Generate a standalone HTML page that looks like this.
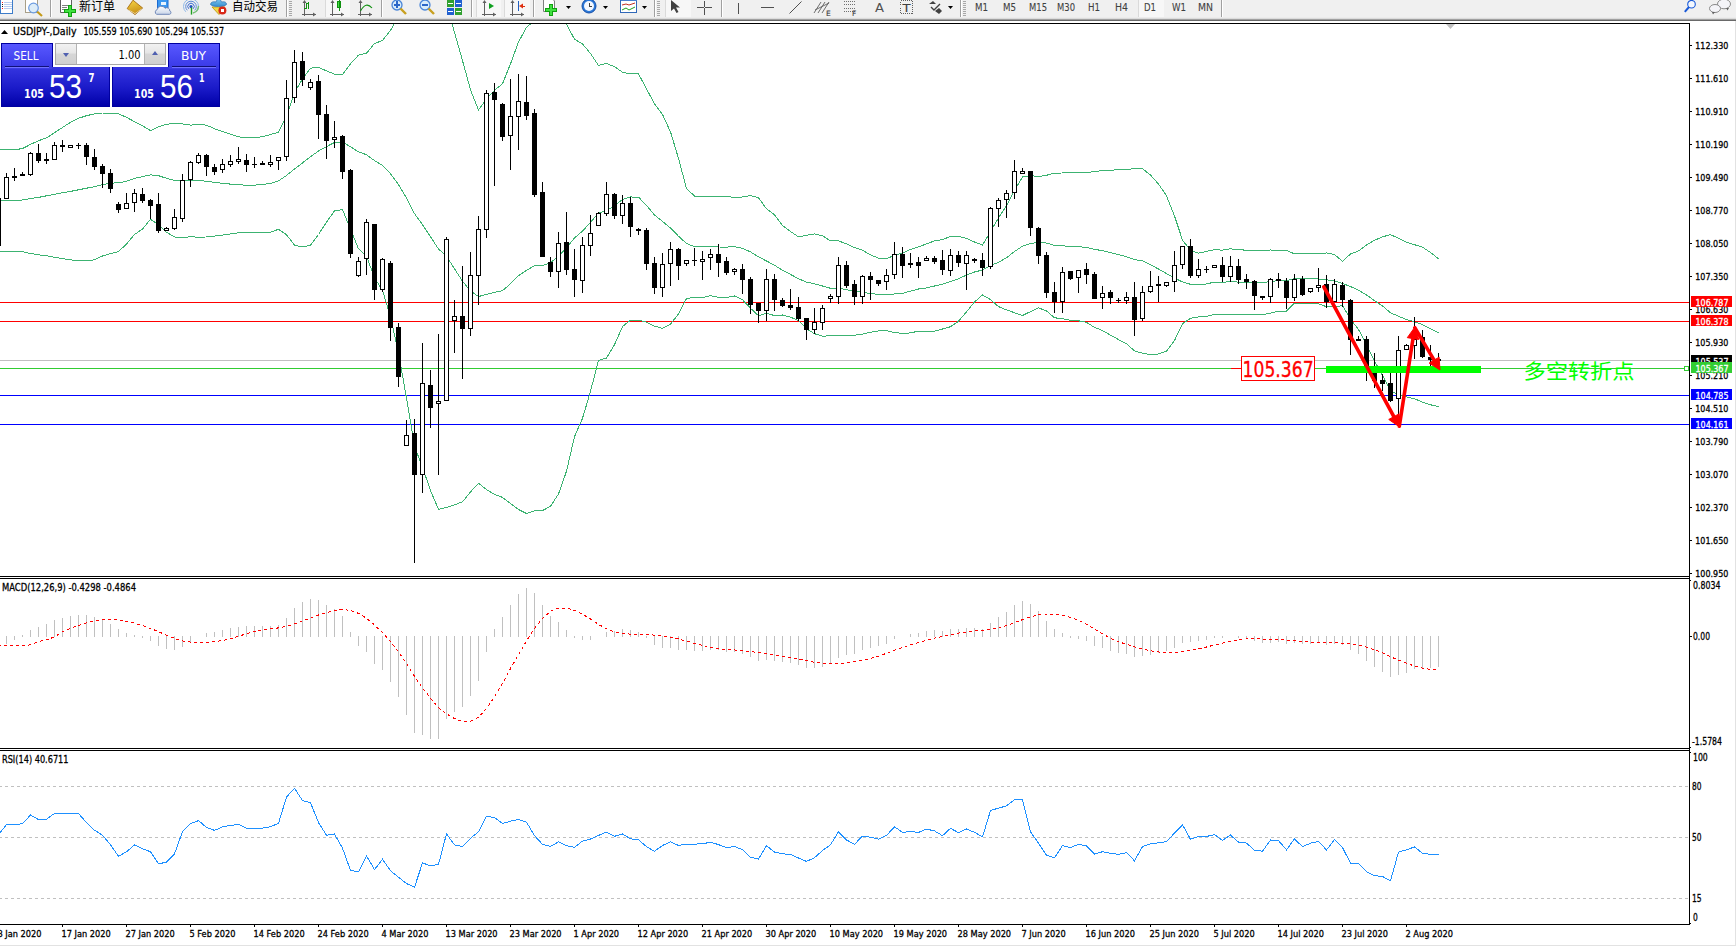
<!DOCTYPE html>
<html><head><meta charset="utf-8"><title>USDJPY Daily</title>
<style>html,body{margin:0;padding:0;background:#fff;overflow:hidden;width:1736px;height:947px}
svg text{white-space:pre}</style></head>
<body>
<svg width="1736" height="947" viewBox="0 0 1736 947" shape-rendering="crispEdges" style="position:absolute;left:0;top:0">
<rect x="0" y="0" width="1736" height="947" fill="#ffffff"/>
<rect x="0" y="0" width="1736" height="19" fill="#f0f0f0"/>
<rect x="0" y="17" width="1736" height="1" fill="#ececec"/>
<rect x="0" y="18" width="1736" height="1" fill="#dcdcdc"/>
<rect x="0" y="19" width="1736" height="1" fill="#a0a0a0"/>
<rect x="0" y="20" width="1736" height="1" fill="#696969"/>
<rect x="0" y="0" width="13" height="14" fill="#3d7cc9"/>
<rect x="1" y="0" width="11" height="13" fill="#ffffff"/>
<rect x="2" y="2" width="1" height="1" fill="#ff2020"/>
<rect x="4" y="2" width="8" height="1" fill="#b8cdf0"/>
<rect x="2" y="4" width="1" height="1" fill="#202020"/>
<rect x="4" y="4" width="8" height="1" fill="#b8cdf0"/>
<rect x="2" y="6" width="1" height="1" fill="#202020"/>
<rect x="4" y="6" width="8" height="1" fill="#b8cdf0"/>
<rect x="2" y="8" width="1" height="1" fill="#ff2020"/>
<rect x="4" y="8" width="8" height="1" fill="#b8cdf0"/>
<rect x="25.5" y="-2.5" width="12" height="15" fill="#fff" stroke="#a89f88" shape-rendering="auto"/>
<circle cx="33.5" cy="8" r="4.8" fill="#dcecf8" stroke="#6b9be0" stroke-width="1.2" shape-rendering="auto"/>
<line x1="37.3" y1="11.8" x2="42" y2="16" stroke="#c49a18" stroke-width="2.2" shape-rendering="auto"/>
<rect x="50" y="0" width="1" height="17" fill="#a0a0a0"/>
<rect x="51" y="0" width="1" height="17" fill="#ffffff"/>
<path d="M60.5,-2.5 H69.5 L71.5,0 V12.5 H60.5 Z" fill="#fff" stroke="#606060" shape-rendering="auto"/>
<rect x="62" y="5" width="6" height="1" fill="#808080"/>
<rect x="62" y="7" width="5" height="1" fill="#808080"/>
<rect x="62" y="9" width="4" height="1" fill="#808080"/>
<rect x="68" y="5" width="4" height="12" fill="#10a010"/>
<rect x="64" y="9" width="12" height="4" fill="#10a010"/>
<rect x="69" y="6" width="2" height="10" fill="#40e040"/>
<rect x="65" y="10" width="10" height="2" fill="#40e040"/>
<text x="79" y="10.5" font-size="12.5" fill="#000" font-family='"Noto Sans CJK SC", "WenQuanYi Zen Hei", sans-serif' textLength="36" lengthAdjust="spacingAndGlyphs">新订单</text>
<defs><linearGradient id="gbk" x1="0" y1="0" x2="0.3" y2="1"><stop offset="0" stop-color="#f8d848"/><stop offset="1" stop-color="#c89018"/></linearGradient><linearGradient id="gcl" x1="0" y1="0" x2="0" y2="1"><stop offset="0" stop-color="#ffffff"/><stop offset="1" stop-color="#c8d4e8"/></linearGradient><linearGradient id="ghat" x1="0" y1="0" x2="0" y2="1"><stop offset="0" stop-color="#80c8f0"/><stop offset="1" stop-color="#3890d0"/></linearGradient></defs>
<polygon points="127.2,8.6 133,0.2 142.6,8 135,14.6" fill="url(#gbk)" stroke="#a86c10" stroke-width="0.9" shape-rendering="auto"/>
<polyline points="128.5,9.8 135,13.6 141.6,9" fill="none" stroke="#f0e0b0" stroke-width="0.8" shape-rendering="auto"/>
<rect x="157.5" y="-1.5" width="10.5" height="9.5" fill="#3c98f0" stroke="#1c6ad0" shape-rendering="auto"/>
<rect x="161" y="2" width="5" height="3" fill="#e8f4ff" shape-rendering="auto"/>
<path d="M156.5,14.3 A2.6,2.6 0 0 1 157.2,9.6 A4.2,4.2 0 0 1 165,8.3 A3,3 0 0 1 169.8,11 A1.7,1.7 0 0 1 169.5,14.3 Z" fill="url(#gcl)" stroke="#7088b8" shape-rendering="auto"/>
<path d="M185.8,11.8 A7.5,7.5 0 1 1 196.2,11.8" fill="none" stroke="#90b8e8" stroke-width="1" shape-rendering="auto"/>
<path d="M187.3,10.3 A5.3,5.3 0 1 1 194.7,10.3" fill="none" stroke="#5a8ad8" stroke-width="1" shape-rendering="auto"/>
<path d="M188.8,8.8 A3.2,3.2 0 1 1 193.2,8.8" fill="none" stroke="#3a6ad0" stroke-width="1" shape-rendering="auto"/>
<path d="M193,13 A7.5,7.5 0 0 0 198.5,6" fill="none" stroke="#78c078" stroke-width="1.4" shape-rendering="auto"/>
<circle cx="191" cy="6.6" r="1.6" fill="#2050c0" shape-rendering="auto"/>
<path d="M191.5,7.5 V14.6" fill="none" stroke="#20a020" stroke-width="1.4" shape-rendering="auto"/>
<path d="M212,7 L225,7 L219,14.5 Z" fill="#f0d848" stroke="#c8a020" shape-rendering="auto"/>
<path d="M210.5,4.5 Q211,1 216,2 L217.5,-1 L220,-1 L221.5,2 Q226.5,1 226.5,4.5 Q225,6.5 218.5,6.5 Q212,6.5 210.5,4.5 Z" fill="url(#ghat)" stroke="#3878b8" stroke-width="0.8" shape-rendering="auto"/>
<circle cx="222.4" cy="10.6" r="4" fill="#d82818" shape-rendering="auto"/>
<rect x="221" y="9" width="3" height="3" fill="#fff"/>
<text x="232" y="10.5" font-size="12.5" fill="#000" font-family='"Noto Sans CJK SC", "WenQuanYi Zen Hei", sans-serif' textLength="46" lengthAdjust="spacingAndGlyphs">自动交易</text>
<rect x="286" y="0" width="1" height="17" fill="#a0a0a0"/>
<rect x="287" y="0" width="1" height="17" fill="#ffffff"/>
<rect x="289" y="1" width="3" height="1" fill="#a8a8a8"/>
<rect x="289" y="3" width="3" height="1" fill="#a8a8a8"/>
<rect x="289" y="5" width="3" height="1" fill="#a8a8a8"/>
<rect x="289" y="7" width="3" height="1" fill="#a8a8a8"/>
<rect x="289" y="9" width="3" height="1" fill="#a8a8a8"/>
<rect x="289" y="11" width="3" height="1" fill="#a8a8a8"/>
<rect x="289" y="13" width="3" height="1" fill="#a8a8a8"/>
<rect x="289" y="15" width="3" height="1" fill="#a8a8a8"/>
<rect x="304" y="1" width="1" height="15" fill="#606060"/>
<rect x="302" y="14" width="14" height="1" fill="#606060"/>
<polygon points="304.5,0 302.5,3 306.5,3" fill="#606060" shape-rendering="auto"/>
<polygon points="316,14.5 313,12.5 313,16.5" fill="#606060" shape-rendering="auto"/>
<rect x="306" y="3" width="1" height="6" fill="#109010"/>
<rect x="306" y="3" width="2" height="1" fill="#109010"/>
<rect x="308" y="2" width="1" height="7" fill="#109010"/>
<rect x="304" y="8" width="3" height="1" fill="#109010"/>
<rect x="325" y="0" width="25" height="17" fill="#f7f7f7"/>
<rect x="325" y="0" width="1" height="17" fill="#dadada"/>
<rect x="332" y="1" width="1" height="15" fill="#606060"/>
<rect x="330" y="14" width="14" height="1" fill="#606060"/>
<polygon points="332.5,0 330.5,3 334.5,3" fill="#606060" shape-rendering="auto"/>
<polygon points="344,14.5 341,12.5 341,16.5" fill="#606060" shape-rendering="auto"/>
<rect x="337" y="1" width="4" height="7" fill="#109010"/>
<rect x="338" y="2" width="2" height="5" fill="#40e040"/>
<rect x="339" y="0" width="1" height="11" fill="#109010"/>
<rect x="360" y="1" width="1" height="15" fill="#606060"/>
<rect x="358" y="14" width="14" height="1" fill="#606060"/>
<polygon points="360.5,0 358.5,3 362.5,3" fill="#606060" shape-rendering="auto"/>
<polygon points="372,14.5 369,12.5 369,16.5" fill="#606060" shape-rendering="auto"/>
<path d="M360.5,11 Q366,1 372,8" fill="none" stroke="#109010" stroke-width="1.1" shape-rendering="auto"/>
<rect x="381" y="0" width="1" height="17" fill="#a0a0a0"/>
<rect x="382" y="0" width="1" height="17" fill="#ffffff"/>
<circle cx="397" cy="5" r="5" fill="#d8ecfa" stroke="#4a86d8" stroke-width="1.3" shape-rendering="auto"/>
<line x1="400.5" y1="8.5" x2="406" y2="14" stroke="#c8a020" stroke-width="2.4" shape-rendering="auto"/>
<rect x="394" y="4" width="6" height="1" fill="#2a66c8"/>
<rect x="394" y="5" width="6" height="1" fill="#2a66c8"/>
<rect x="396" y="1" width="2" height="7" fill="#2a66c8"/>
<circle cx="425" cy="5" r="5" fill="#d8ecfa" stroke="#4a86d8" stroke-width="1.3" shape-rendering="auto"/>
<line x1="428.5" y1="8.5" x2="434" y2="14" stroke="#c8a020" stroke-width="2.4" shape-rendering="auto"/>
<rect x="422" y="4" width="6" height="1" fill="#2a66c8"/>
<rect x="422" y="5" width="6" height="1" fill="#2a66c8"/>
<rect x="447" y="0" width="7" height="7" fill="#30a030"/>
<rect x="455" y="0" width="7" height="7" fill="#2060d0"/>
<rect x="447" y="8" width="7" height="7" fill="#2060d0"/>
<rect x="455" y="8" width="7" height="7" fill="#30a030"/>
<rect x="448" y="3" width="5" height="1" fill="#ffffff"/>
<rect x="456" y="3" width="5" height="1" fill="#ffffff"/>
<rect x="448" y="11" width="5" height="1" fill="#ffffff"/>
<rect x="456" y="11" width="5" height="1" fill="#ffffff"/>
<rect x="471" y="0" width="1" height="17" fill="#a0a0a0"/>
<rect x="472" y="0" width="1" height="17" fill="#ffffff"/>
<rect x="476" y="0" width="25" height="17" fill="#f7f7f7"/>
<rect x="476" y="0" width="1" height="17" fill="#dadada"/>
<rect x="484" y="1" width="1" height="15" fill="#606060"/>
<rect x="482" y="14" width="14" height="1" fill="#606060"/>
<polygon points="484.5,0 482.5,3 486.5,3" fill="#606060" shape-rendering="auto"/>
<polygon points="496,14.5 493,12.5 493,16.5" fill="#606060" shape-rendering="auto"/>
<polygon points="489,3 489,9 494,6" fill="#10a020" shape-rendering="auto"/>
<rect x="504" y="0" width="26" height="17" fill="#f7f7f7"/>
<rect x="504" y="0" width="1" height="17" fill="#dadada"/>
<rect x="512" y="1" width="1" height="15" fill="#606060"/>
<rect x="510" y="14" width="14" height="1" fill="#606060"/>
<polygon points="512.5,0 510.5,3 514.5,3" fill="#606060" shape-rendering="auto"/>
<polygon points="524,14.5 521,12.5 521,16.5" fill="#606060" shape-rendering="auto"/>
<rect x="518" y="1" width="1" height="10" fill="#2060c0"/>
<polygon points="519,6 523,3.5 523,8.5" fill="#e03010" shape-rendering="auto"/>
<rect x="521" y="6" width="4" height="1" fill="#e03010"/>
<rect x="533" y="0" width="1" height="17" fill="#a0a0a0"/>
<rect x="534" y="0" width="1" height="17" fill="#ffffff"/>
<path d="M543.5,-1.5 H552 L554.5,1 V11.5 H543.5 Z" fill="#fff" stroke="#808080" shape-rendering="auto"/>
<rect x="549" y="4" width="4" height="12" fill="#10a010"/>
<rect x="545" y="8" width="12" height="4" fill="#10a010"/>
<rect x="550" y="5" width="2" height="10" fill="#40e040"/>
<rect x="546" y="9" width="10" height="2" fill="#40e040"/>
<polygon points="566,6 571,6 568.5,9" fill="#000" shape-rendering="auto"/>
<circle cx="589" cy="6" r="7" fill="#2a78d8" stroke="#1850a8" shape-rendering="auto"/>
<circle cx="589" cy="6" r="5" fill="#f4f8ff" shape-rendering="auto"/>
<rect x="589" y="3" width="1" height="4" fill="#404040"/>
<rect x="589" y="6" width="3" height="1" fill="#404040"/>
<polygon points="603,6 608,6 605.5,9" fill="#000" shape-rendering="auto"/>
<rect x="620.5" y="-1.5" width="16" height="14" fill="#fff" stroke="#3068b8" shape-rendering="auto"/>
<rect x="621" y="-1" width="16" height="2" fill="#4a80d0"/>
<polyline points="622,5 626,4 629,5 635,3" fill="none" stroke="#c03020" shape-rendering="auto"/>
<polyline points="622,10 626,8 629,10 635,7" fill="none" stroke="#20a020" shape-rendering="auto"/>
<polygon points="642,6 647,6 644.5,9" fill="#000" shape-rendering="auto"/>
<rect x="654" y="0" width="1" height="17" fill="#a0a0a0"/>
<rect x="655" y="0" width="1" height="17" fill="#ffffff"/>
<rect x="657" y="1" width="3" height="1" fill="#a8a8a8"/>
<rect x="657" y="3" width="3" height="1" fill="#a8a8a8"/>
<rect x="657" y="5" width="3" height="1" fill="#a8a8a8"/>
<rect x="657" y="7" width="3" height="1" fill="#a8a8a8"/>
<rect x="657" y="9" width="3" height="1" fill="#a8a8a8"/>
<rect x="657" y="11" width="3" height="1" fill="#a8a8a8"/>
<rect x="657" y="13" width="3" height="1" fill="#a8a8a8"/>
<rect x="657" y="15" width="3" height="1" fill="#a8a8a8"/>
<rect x="665" y="0" width="26" height="17" fill="#f7f7f7"/>
<rect x="665" y="0" width="1" height="17" fill="#dadada"/>
<polygon points="671,0 671,11 674,8.5 676.5,13 678.5,12 676,7.5 680,7.5" fill="#404040" shape-rendering="auto"/>
<rect x="704" y="1" width="1" height="14" fill="#505050"/>
<rect x="697" y="7" width="15" height="1" fill="#505050"/>
<rect x="704" y="7" width="1" height="1" fill="#f0f0f0"/>
<rect x="721" y="0" width="1" height="17" fill="#a0a0a0"/>
<rect x="722" y="0" width="1" height="17" fill="#ffffff"/>
<rect x="738" y="3" width="1" height="11" fill="#505050"/>
<rect x="761" y="7" width="13" height="1" fill="#505050"/>
<line x1="789.5" y1="13.5" x2="801.5" y2="1.5" stroke="#505050" shape-rendering="auto"/>
<line x1="814" y1="13" x2="821" y2="2" stroke="#606060" stroke-width="0.9" shape-rendering="auto"/>
<line x1="818" y1="13" x2="825" y2="2" stroke="#606060" stroke-width="0.9" shape-rendering="auto"/>
<line x1="822" y1="13" x2="829" y2="2" stroke="#606060" stroke-width="0.9" shape-rendering="auto"/>
<line x1="815" y1="10" x2="829" y2="3" stroke="#606060" stroke-width="0.9" shape-rendering="auto"/>
<text x="826" y="15.5" font-size="7.5" fill="#404040" text-anchor="start" font-family='"DejaVu Sans", "Liberation Sans", sans-serif' font-weight="normal" stroke="#404040" stroke-width="0.1">E</text>
<line x1="844" y1="1.5" x2="856" y2="1.5" stroke="#707070" stroke-dasharray="1 1"/>
<line x1="844" y1="4.5" x2="856" y2="4.5" stroke="#707070" stroke-dasharray="1 1"/>
<line x1="844" y1="8.5" x2="856" y2="8.5" stroke="#707070" stroke-dasharray="1 1"/>
<line x1="844" y1="11.5" x2="856" y2="11.5" stroke="#707070" stroke-dasharray="1 1"/>
<text x="852" y="15.5" font-size="7.5" fill="#404040" text-anchor="start" font-family='"DejaVu Sans", "Liberation Sans", sans-serif' font-weight="normal" stroke="#404040" stroke-width="0.1">F</text>
<text x="875" y="12" font-size="11.5" fill="#505050" text-anchor="start" font-family='"DejaVu Sans", "Liberation Sans", sans-serif' font-weight="normal" textLength="9" lengthAdjust="spacingAndGlyphs">A</text>
<rect x="900.5" y="0.5" width="12" height="13" fill="none" stroke="#606060" stroke-dasharray="1 1"/>
<text x="902.5" y="11.5" font-size="11" fill="#404040" text-anchor="start" font-family='"DejaVu Sans", "Liberation Sans", sans-serif' font-weight="normal" textLength="8" lengthAdjust="spacingAndGlyphs" stroke="#404040" stroke-width="0.1">T</text>
<polygon points="929,4 933,1 936,4" fill="#404040" shape-rendering="auto"/>
<polyline points="931,7 934,10 940,4" fill="none" stroke="#404040" stroke-width="1.4" shape-rendering="auto"/>
<polygon points="935,11 939,8 942,11 939,14" fill="#404040" shape-rendering="auto"/>
<polygon points="948,6 953,6 950.5,9" fill="#000" shape-rendering="auto"/>
<rect x="960" y="0" width="1" height="17" fill="#a0a0a0"/>
<rect x="961" y="0" width="1" height="17" fill="#ffffff"/>
<rect x="963" y="1" width="3" height="1" fill="#a8a8a8"/>
<rect x="963" y="3" width="3" height="1" fill="#a8a8a8"/>
<rect x="963" y="5" width="3" height="1" fill="#a8a8a8"/>
<rect x="963" y="7" width="3" height="1" fill="#a8a8a8"/>
<rect x="963" y="9" width="3" height="1" fill="#a8a8a8"/>
<rect x="963" y="11" width="3" height="1" fill="#a8a8a8"/>
<rect x="963" y="13" width="3" height="1" fill="#a8a8a8"/>
<rect x="963" y="15" width="3" height="1" fill="#a8a8a8"/>
<text x="975" y="11" font-size="10.5" fill="#404040" text-anchor="start" font-family='"DejaVu Sans", "Liberation Sans", sans-serif' font-weight="normal" textLength="13" lengthAdjust="spacingAndGlyphs" stroke="#404040" stroke-width="0.1">M1</text>
<text x="1003" y="11" font-size="10.5" fill="#404040" text-anchor="start" font-family='"DejaVu Sans", "Liberation Sans", sans-serif' font-weight="normal" textLength="13" lengthAdjust="spacingAndGlyphs" stroke="#404040" stroke-width="0.1">M5</text>
<text x="1029" y="11" font-size="10.5" fill="#404040" text-anchor="start" font-family='"DejaVu Sans", "Liberation Sans", sans-serif' font-weight="normal" textLength="18" lengthAdjust="spacingAndGlyphs" stroke="#404040" stroke-width="0.1">M15</text>
<text x="1057" y="11" font-size="10.5" fill="#404040" text-anchor="start" font-family='"DejaVu Sans", "Liberation Sans", sans-serif' font-weight="normal" textLength="18" lengthAdjust="spacingAndGlyphs" stroke="#404040" stroke-width="0.1">M30</text>
<text x="1088" y="11" font-size="10.5" fill="#404040" text-anchor="start" font-family='"DejaVu Sans", "Liberation Sans", sans-serif' font-weight="normal" textLength="12" lengthAdjust="spacingAndGlyphs" stroke="#404040" stroke-width="0.1">H1</text>
<text x="1115" y="11" font-size="10.5" fill="#404040" text-anchor="start" font-family='"DejaVu Sans", "Liberation Sans", sans-serif' font-weight="normal" textLength="13" lengthAdjust="spacingAndGlyphs" stroke="#404040" stroke-width="0.1">H4</text>
<rect x="1138" y="0" width="26" height="17" fill="#f7f7f7"/>
<rect x="1138" y="0" width="1" height="17" fill="#dadada"/>
<text x="1144" y="11" font-size="10.5" fill="#404040" text-anchor="start" font-family='"DejaVu Sans", "Liberation Sans", sans-serif' font-weight="normal" textLength="12" lengthAdjust="spacingAndGlyphs" stroke="#404040" stroke-width="0.1">D1</text>
<text x="1172" y="11" font-size="10.5" fill="#404040" text-anchor="start" font-family='"DejaVu Sans", "Liberation Sans", sans-serif' font-weight="normal" textLength="14" lengthAdjust="spacingAndGlyphs" stroke="#404040" stroke-width="0.1">W1</text>
<text x="1198" y="11" font-size="10.5" fill="#404040" text-anchor="start" font-family='"DejaVu Sans", "Liberation Sans", sans-serif' font-weight="normal" textLength="15" lengthAdjust="spacingAndGlyphs" stroke="#404040" stroke-width="0.1">MN</text>
<rect x="1221" y="0" width="1" height="17" fill="#a0a0a0"/>
<rect x="1222" y="0" width="1" height="17" fill="#ffffff"/>
<circle cx="1691.5" cy="4.2" r="3.8" fill="#f4f8ff" stroke="#1a5ad8" stroke-width="1.1" shape-rendering="auto"/>
<line x1="1689" y1="7" x2="1684.8" y2="11.8" stroke="#1a5ad8" stroke-width="2" shape-rendering="auto"/>
<ellipse cx="1724" cy="4" rx="6.5" ry="4.8" fill="#f4f4f8" stroke="#8a8a8a" shape-rendering="auto"/>
<ellipse cx="1715" cy="8.5" rx="5.5" ry="4" fill="#f4f4f8" stroke="#8a8a8a" shape-rendering="auto"/>
<polygon points="1712,12 1713,14.5 1715,12" fill="#606060" shape-rendering="auto"/>
<polygon points="1726,8 1727.5,10.5 1729,8" fill="#606060" shape-rendering="auto"/>
<rect x="0" y="23" width="1690" height="1" fill="#000"/>
<rect x="0" y="576" width="1690" height="1" fill="#000"/>
<rect x="0" y="578" width="1690" height="1" fill="#000"/>
<rect x="0" y="748" width="1690" height="1" fill="#000"/>
<rect x="0" y="750" width="1690" height="1" fill="#000"/>
<rect x="0" y="924" width="1690" height="1" fill="#000"/>
<rect x="1689" y="23" width="1" height="902" fill="#000"/>
<rect x="1735" y="21" width="1" height="925" fill="#e2e2e2"/>
<rect x="0" y="945" width="1736" height="1" fill="#e2e2e2"/>
<rect x="1690" y="45" width="2" height="1" fill="#000"/>
<text x="1695.3" y="49" font-size="9.5" fill="#000" text-anchor="start" font-family='"DejaVu Sans", "Liberation Sans", sans-serif' font-weight="normal" textLength="33" lengthAdjust="spacingAndGlyphs" stroke="#000" stroke-width="0.3">112.330</text>
<rect x="1690" y="78" width="2" height="1" fill="#000"/>
<text x="1695.3" y="82" font-size="9.5" fill="#000" text-anchor="start" font-family='"DejaVu Sans", "Liberation Sans", sans-serif' font-weight="normal" textLength="33" lengthAdjust="spacingAndGlyphs" stroke="#000" stroke-width="0.3">111.610</text>
<rect x="1690" y="111" width="2" height="1" fill="#000"/>
<text x="1695.3" y="115" font-size="9.5" fill="#000" text-anchor="start" font-family='"DejaVu Sans", "Liberation Sans", sans-serif' font-weight="normal" textLength="33" lengthAdjust="spacingAndGlyphs" stroke="#000" stroke-width="0.3">110.910</text>
<rect x="1690" y="144" width="2" height="1" fill="#000"/>
<text x="1695.3" y="148" font-size="9.5" fill="#000" text-anchor="start" font-family='"DejaVu Sans", "Liberation Sans", sans-serif' font-weight="normal" textLength="33" lengthAdjust="spacingAndGlyphs" stroke="#000" stroke-width="0.3">110.190</text>
<rect x="1690" y="177" width="2" height="1" fill="#000"/>
<text x="1695.3" y="181" font-size="9.5" fill="#000" text-anchor="start" font-family='"DejaVu Sans", "Liberation Sans", sans-serif' font-weight="normal" textLength="33" lengthAdjust="spacingAndGlyphs" stroke="#000" stroke-width="0.3">109.490</text>
<rect x="1690" y="210" width="2" height="1" fill="#000"/>
<text x="1695.3" y="214" font-size="9.5" fill="#000" text-anchor="start" font-family='"DejaVu Sans", "Liberation Sans", sans-serif' font-weight="normal" textLength="33" lengthAdjust="spacingAndGlyphs" stroke="#000" stroke-width="0.3">108.770</text>
<rect x="1690" y="243" width="2" height="1" fill="#000"/>
<text x="1695.3" y="247" font-size="9.5" fill="#000" text-anchor="start" font-family='"DejaVu Sans", "Liberation Sans", sans-serif' font-weight="normal" textLength="33" lengthAdjust="spacingAndGlyphs" stroke="#000" stroke-width="0.3">108.050</text>
<rect x="1690" y="276" width="2" height="1" fill="#000"/>
<text x="1695.3" y="280" font-size="9.5" fill="#000" text-anchor="start" font-family='"DejaVu Sans", "Liberation Sans", sans-serif' font-weight="normal" textLength="33" lengthAdjust="spacingAndGlyphs" stroke="#000" stroke-width="0.3">107.350</text>
<rect x="1690" y="309" width="2" height="1" fill="#000"/>
<text x="1695.3" y="313" font-size="9.5" fill="#000" text-anchor="start" font-family='"DejaVu Sans", "Liberation Sans", sans-serif' font-weight="normal" textLength="33" lengthAdjust="spacingAndGlyphs" stroke="#000" stroke-width="0.3">106.630</text>
<rect x="1690" y="342" width="2" height="1" fill="#000"/>
<text x="1695.3" y="346" font-size="9.5" fill="#000" text-anchor="start" font-family='"DejaVu Sans", "Liberation Sans", sans-serif' font-weight="normal" textLength="33" lengthAdjust="spacingAndGlyphs" stroke="#000" stroke-width="0.3">105.930</text>
<rect x="1690" y="375" width="2" height="1" fill="#000"/>
<text x="1695.3" y="379" font-size="9.5" fill="#000" text-anchor="start" font-family='"DejaVu Sans", "Liberation Sans", sans-serif' font-weight="normal" textLength="33" lengthAdjust="spacingAndGlyphs" stroke="#000" stroke-width="0.3">105.210</text>
<rect x="1690" y="408" width="2" height="1" fill="#000"/>
<text x="1695.3" y="412" font-size="9.5" fill="#000" text-anchor="start" font-family='"DejaVu Sans", "Liberation Sans", sans-serif' font-weight="normal" textLength="33" lengthAdjust="spacingAndGlyphs" stroke="#000" stroke-width="0.3">104.510</text>
<rect x="1690" y="441" width="2" height="1" fill="#000"/>
<text x="1695.3" y="445" font-size="9.5" fill="#000" text-anchor="start" font-family='"DejaVu Sans", "Liberation Sans", sans-serif' font-weight="normal" textLength="33" lengthAdjust="spacingAndGlyphs" stroke="#000" stroke-width="0.3">103.790</text>
<rect x="1690" y="474" width="2" height="1" fill="#000"/>
<text x="1695.3" y="478" font-size="9.5" fill="#000" text-anchor="start" font-family='"DejaVu Sans", "Liberation Sans", sans-serif' font-weight="normal" textLength="33" lengthAdjust="spacingAndGlyphs" stroke="#000" stroke-width="0.3">103.070</text>
<rect x="1690" y="507" width="2" height="1" fill="#000"/>
<text x="1695.3" y="511" font-size="9.5" fill="#000" text-anchor="start" font-family='"DejaVu Sans", "Liberation Sans", sans-serif' font-weight="normal" textLength="33" lengthAdjust="spacingAndGlyphs" stroke="#000" stroke-width="0.3">102.370</text>
<rect x="1690" y="540" width="2" height="1" fill="#000"/>
<text x="1695.3" y="544" font-size="9.5" fill="#000" text-anchor="start" font-family='"DejaVu Sans", "Liberation Sans", sans-serif' font-weight="normal" textLength="33" lengthAdjust="spacingAndGlyphs" stroke="#000" stroke-width="0.3">101.650</text>
<rect x="1690" y="573" width="2" height="1" fill="#000"/>
<text x="1695.3" y="577" font-size="9.5" fill="#000" text-anchor="start" font-family='"DejaVu Sans", "Liberation Sans", sans-serif' font-weight="normal" textLength="33" lengthAdjust="spacingAndGlyphs" stroke="#000" stroke-width="0.3">100.950</text>
<defs><clipPath id="cm"><rect x="0" y="24" width="1689" height="552"/></clipPath><clipPath id="cd"><rect x="0" y="579" width="1689" height="169"/></clipPath><clipPath id="cr"><rect x="0" y="751" width="1689" height="173"/></clipPath></defs>
<g clip-path="url(#cm)">
<rect x="0" y="302" width="1689" height="1" fill="#ff0000"/>
<rect x="0" y="321" width="1689" height="1" fill="#ff0000"/>
<rect x="0" y="360" width="1689" height="1" fill="#c0c0c0"/>
<rect x="0" y="368" width="1689" height="1" fill="#32cd32"/>
<rect x="0" y="395" width="1689" height="1" fill="#0000ff"/>
<rect x="0" y="424" width="1689" height="1" fill="#0000ff"/>
<polyline points="-1.5,149.7 6.5,149.7 14.5,149.7 22.5,148.6 30.5,144.4 38.5,140.7 46.5,137.9 54.5,132.6 62.5,127.5 70.5,122.3 78.5,118.3 86.5,115.7 94.5,113.9 102.5,113.0 110.5,113.0 118.5,113.8 126.5,117.4 134.5,121.6 142.5,125.7 150.5,130.6 158.5,126.8 166.5,124.2 174.5,123.6 182.5,123.9 190.5,125.1 198.5,124.4 206.5,125.2 214.5,128.7 222.5,131.5 230.5,134.2 238.5,136.8 246.5,138.0 254.5,137.7 262.5,136.7 270.5,134.5 278.5,132.2 286.5,116.3 294.5,92.7 302.5,78.8 310.5,68.2 318.5,67.4 326.5,70.9 334.5,74.2 342.5,74.6 350.5,63.8 358.5,55.1 366.5,53.3 374.5,43.5 382.5,40.5 390.5,30.3 398.5,16.4 406.5,-2.1 414.5,-19.1 422.5,-18.3 430.5,-16.8 438.5,-11.5 446.5,4.7 454.5,32.6 462.5,60.6 470.5,89.8 478.5,110.0 486.5,98.9 494.5,90.3 502.5,83.8 510.5,63.9 518.5,42.0 526.5,27.3 534.5,20.5 542.5,20.4 550.5,19.2 558.5,18.1 566.5,24.3 574.5,39.3 582.5,43.9 590.5,53.5 598.5,65.4 606.5,63.5 614.5,66.6 622.5,72.3 630.5,73.9 638.5,73.9 646.5,88.9 654.5,103.8 662.5,114.4 670.5,131.9 678.5,158.5 686.5,188.4 694.5,196.1 702.5,196.1 710.5,196.4 718.5,196.8 726.5,196.7 734.5,197.3 742.5,197.0 750.5,195.5 758.5,197.8 766.5,208.8 774.5,214.8 782.5,225.6 790.5,231.6 798.5,236.8 806.5,235.3 814.5,233.9 822.5,235.8 830.5,240.9 838.5,240.9 846.5,243.9 854.5,247.6 862.5,250.3 870.5,254.8 878.5,258.2 886.5,258.7 894.5,255.3 902.5,253.1 910.5,249.5 918.5,246.8 926.5,243.9 934.5,240.9 942.5,239.5 950.5,236.5 958.5,236.4 966.5,238.5 974.5,242.0 982.5,245.1 990.5,231.5 998.5,218.0 1006.5,205.6 1014.5,190.2 1022.5,177.0 1030.5,175.7 1038.5,176.5 1046.5,175.3 1054.5,173.1 1062.5,173.0 1070.5,172.7 1078.5,172.7 1086.5,172.7 1094.5,171.4 1102.5,170.7 1110.5,170.3 1118.5,169.6 1126.5,169.7 1134.5,168.4 1142.5,168.6 1150.5,175.1 1158.5,184.0 1166.5,195.8 1174.5,215.9 1182.5,240.1 1190.5,250.5 1198.5,253.1 1206.5,251.4 1214.5,249.8 1222.5,250.1 1230.5,248.8 1238.5,249.7 1246.5,250.2 1254.5,250.3 1262.5,250.2 1270.5,250.0 1278.5,250.2 1286.5,250.2 1294.5,254.0 1302.5,253.9 1310.5,253.8 1318.5,253.8 1326.5,252.9 1334.5,254.6 1342.5,261.3 1350.5,254.0 1358.5,250.9 1366.5,245.0 1374.5,240.3 1382.5,236.8 1390.5,234.7 1398.5,238.2 1406.5,242.1 1414.5,244.7 1422.5,247.1 1430.5,252.5 1438.5,258.7" fill="none" stroke="#3cb371" stroke-width="1"/>
<polyline points="-1.5,200.9 6.5,200.9 14.5,200.9 22.5,199.9 30.5,198.6 38.5,197.4 46.5,195.8 54.5,194.3 62.5,192.7 70.5,191.4 78.5,189.8 86.5,188.2 94.5,186.7 102.5,184.7 110.5,183.2 118.5,182.8 126.5,181.3 134.5,178.4 142.5,176.6 150.5,174.9 158.5,175.7 166.5,178.3 174.5,180.3 182.5,180.6 190.5,181.0 198.5,180.8 206.5,181.1 214.5,182.4 222.5,183.3 230.5,184.1 238.5,184.8 246.5,185.2 254.5,185.1 262.5,184.6 270.5,183.4 278.5,180.8 286.5,175.5 294.5,169.0 302.5,162.9 310.5,156.8 318.5,151.0 326.5,146.6 334.5,142.5 342.5,142.1 350.5,146.7 358.5,151.9 366.5,154.7 374.5,160.6 382.5,165.4 390.5,173.7 398.5,184.6 406.5,198.1 414.5,213.6 422.5,224.6 430.5,236.8 438.5,249.0 446.5,256.1 454.5,268.8 462.5,281.2 470.5,290.9 478.5,296.6 486.5,294.3 494.5,292.4 502.5,290.6 510.5,283.8 518.5,275.7 526.5,270.4 534.5,265.7 542.5,265.5 550.5,262.7 558.5,256.1 566.5,247.8 574.5,238.0 582.5,231.1 590.5,222.4 598.5,213.0 606.5,210.7 614.5,205.7 622.5,199.4 630.5,197.0 638.5,197.1 646.5,205.5 654.5,214.9 662.5,221.4 670.5,228.0 678.5,236.2 686.5,243.5 694.5,246.7 702.5,246.9 710.5,246.1 718.5,247.0 726.5,247.1 734.5,246.7 742.5,248.3 750.5,251.9 758.5,256.8 766.5,261.0 774.5,265.2 782.5,270.3 790.5,274.4 798.5,278.8 806.5,282.1 814.5,283.8 822.5,286.0 830.5,288.3 838.5,288.3 846.5,289.6 854.5,291.4 862.5,292.3 870.5,293.5 878.5,294.5 886.5,294.7 894.5,294.0 902.5,293.3 910.5,291.2 918.5,289.0 926.5,287.9 934.5,286.0 942.5,284.2 950.5,281.6 958.5,278.8 966.5,275.1 974.5,272.0 982.5,270.0 990.5,265.6 998.5,262.3 1006.5,257.7 1014.5,251.5 1022.5,246.2 1030.5,243.6 1038.5,242.2 1046.5,243.1 1054.5,245.4 1062.5,245.8 1070.5,246.5 1078.5,246.7 1086.5,247.5 1094.5,249.4 1102.5,250.6 1110.5,252.7 1118.5,254.6 1126.5,256.7 1134.5,259.7 1142.5,260.9 1150.5,264.8 1158.5,269.0 1166.5,273.5 1174.5,278.2 1182.5,281.9 1190.5,284.3 1198.5,285.0 1206.5,283.9 1214.5,282.1 1222.5,282.3 1230.5,281.7 1238.5,282.1 1246.5,282.5 1254.5,282.3 1262.5,282.5 1270.5,281.6 1278.5,280.6 1286.5,280.6 1294.5,278.6 1302.5,278.7 1310.5,278.8 1318.5,278.9 1326.5,279.8 1334.5,280.8 1342.5,283.4 1350.5,286.6 1358.5,290.2 1366.5,294.9 1374.5,300.7 1382.5,306.0 1390.5,312.7 1398.5,316.3 1406.5,319.5 1414.5,321.7 1422.5,324.6 1430.5,328.7 1438.5,332.7" fill="none" stroke="#3cb371" stroke-width="1"/>
<polyline points="-1.5,251.6 6.5,251.6 14.5,251.6 22.5,251.6 30.5,253.5 38.5,254.8 46.5,255.7 54.5,257.3 62.5,258.6 70.5,259.8 78.5,260.7 86.5,260.7 94.5,259.8 102.5,256.0 110.5,253.5 118.5,251.6 126.5,244.0 134.5,234.5 142.5,229.0 150.5,219.3 158.5,224.6 166.5,232.3 174.5,237.0 182.5,237.2 190.5,236.9 198.5,237.1 206.5,237.0 214.5,236.1 222.5,235.1 230.5,234.0 238.5,232.8 246.5,232.4 254.5,232.5 262.5,232.6 270.5,232.2 278.5,229.3 286.5,234.7 294.5,245.2 302.5,247.0 310.5,245.3 318.5,234.5 326.5,222.2 334.5,210.9 342.5,209.6 350.5,229.5 358.5,248.8 366.5,256.2 374.5,277.8 382.5,290.3 390.5,317.1 398.5,352.7 406.5,398.3 414.5,446.3 422.5,467.4 430.5,490.4 438.5,509.5 446.5,507.4 454.5,504.9 462.5,501.8 470.5,491.9 478.5,483.2 486.5,489.6 494.5,494.4 502.5,497.4 510.5,503.6 518.5,509.5 526.5,513.5 534.5,510.8 542.5,510.6 550.5,506.2 558.5,494.0 566.5,471.2 574.5,436.7 582.5,418.3 590.5,391.3 598.5,360.6 606.5,358.0 614.5,344.8 622.5,326.6 630.5,320.1 638.5,320.2 646.5,322.2 654.5,326.1 662.5,328.3 670.5,324.1 678.5,313.9 686.5,298.5 694.5,297.4 702.5,297.7 710.5,295.7 718.5,297.2 726.5,297.6 734.5,296.0 742.5,299.7 750.5,308.3 758.5,315.7 766.5,313.2 774.5,315.6 782.5,315.0 790.5,317.1 798.5,320.7 806.5,328.8 814.5,333.7 822.5,336.2 830.5,335.8 838.5,335.8 846.5,335.3 854.5,335.2 862.5,334.2 870.5,332.2 878.5,330.9 886.5,330.7 894.5,332.6 902.5,333.4 910.5,332.9 918.5,331.1 926.5,332.0 934.5,331.2 942.5,329.0 950.5,326.7 958.5,321.3 966.5,311.8 974.5,302.0 982.5,294.9 990.5,299.6 998.5,306.6 1006.5,309.9 1014.5,312.7 1022.5,315.5 1030.5,311.6 1038.5,307.9 1046.5,310.9 1054.5,317.8 1062.5,318.6 1070.5,320.3 1078.5,320.8 1086.5,322.4 1094.5,327.4 1102.5,330.5 1110.5,335.1 1118.5,339.6 1126.5,343.7 1134.5,350.9 1142.5,353.2 1150.5,354.5 1158.5,354.0 1166.5,351.2 1174.5,340.5 1182.5,323.8 1190.5,318.2 1198.5,317.0 1206.5,316.3 1214.5,314.4 1222.5,314.4 1230.5,314.5 1238.5,314.6 1246.5,314.7 1254.5,314.3 1262.5,314.8 1270.5,313.2 1278.5,311.0 1286.5,311.0 1294.5,303.2 1302.5,303.6 1310.5,303.8 1318.5,303.9 1326.5,306.7 1334.5,306.9 1342.5,305.5 1350.5,319.2 1358.5,329.4 1366.5,344.9 1374.5,361.1 1382.5,375.3 1390.5,390.8 1398.5,394.4 1406.5,396.9 1414.5,398.7 1422.5,402.2 1430.5,404.8 1438.5,406.6" fill="none" stroke="#3cb371" stroke-width="1"/>
<rect x="-2" y="198" width="1" height="48" fill="#000"/>
<rect x="-4" y="198" width="5" height="48" fill="#000"/>
<rect x="-3" y="199" width="3" height="46" fill="#fff"/>
<rect x="6" y="173" width="1" height="26" fill="#000"/>
<rect x="4" y="177" width="5" height="22" fill="#000"/>
<rect x="5" y="178" width="3" height="20" fill="#fff"/>
<rect x="14" y="168" width="1" height="13" fill="#000"/>
<rect x="12" y="176" width="5" height="2" fill="#000"/>
<rect x="22" y="172" width="1" height="4" fill="#000"/>
<rect x="20" y="174" width="5" height="2" fill="#000"/>
<rect x="30" y="152" width="1" height="24" fill="#000"/>
<rect x="28" y="153" width="5" height="22" fill="#000"/>
<rect x="29" y="154" width="3" height="20" fill="#fff"/>
<rect x="38" y="144" width="1" height="19" fill="#000"/>
<rect x="36" y="153" width="5" height="8" fill="#000"/>
<rect x="46" y="153" width="1" height="11" fill="#000"/>
<rect x="44" y="159" width="5" height="2" fill="#000"/>
<rect x="54" y="142" width="1" height="18" fill="#000"/>
<rect x="52" y="145" width="5" height="15" fill="#000"/>
<rect x="53" y="146" width="3" height="13" fill="#fff"/>
<rect x="62" y="140" width="1" height="12" fill="#000"/>
<rect x="60" y="145" width="5" height="2" fill="#000"/>
<rect x="70" y="145" width="1" height="2" fill="#000"/>
<rect x="68" y="145" width="5" height="3" fill="#000"/>
<rect x="69" y="146" width="3" height="1" fill="#fff"/>
<rect x="78" y="143" width="1" height="6" fill="#000"/>
<rect x="76" y="145" width="5" height="1" fill="#000"/>
<rect x="86" y="143" width="1" height="22" fill="#000"/>
<rect x="84" y="145" width="5" height="12" fill="#000"/>
<rect x="94" y="149" width="1" height="21" fill="#000"/>
<rect x="92" y="157" width="5" height="10" fill="#000"/>
<rect x="102" y="164" width="1" height="24" fill="#000"/>
<rect x="100" y="166" width="5" height="8" fill="#000"/>
<rect x="110" y="169" width="1" height="24" fill="#000"/>
<rect x="108" y="173" width="5" height="16" fill="#000"/>
<rect x="118" y="202" width="1" height="11" fill="#000"/>
<rect x="116" y="204" width="5" height="6" fill="#000"/>
<rect x="126" y="193" width="1" height="16" fill="#000"/>
<rect x="124" y="203" width="5" height="6" fill="#000"/>
<rect x="125" y="204" width="3" height="4" fill="#fff"/>
<rect x="134" y="189" width="1" height="23" fill="#000"/>
<rect x="132" y="193" width="5" height="10" fill="#000"/>
<rect x="133" y="194" width="3" height="8" fill="#fff"/>
<rect x="142" y="188" width="1" height="15" fill="#000"/>
<rect x="140" y="194" width="5" height="7" fill="#000"/>
<rect x="150" y="199" width="1" height="20" fill="#000"/>
<rect x="148" y="200" width="5" height="6" fill="#000"/>
<rect x="158" y="193" width="1" height="40" fill="#000"/>
<rect x="156" y="204" width="5" height="27" fill="#000"/>
<rect x="166" y="227" width="1" height="4" fill="#000"/>
<rect x="164" y="228" width="5" height="3" fill="#000"/>
<rect x="165" y="229" width="3" height="1" fill="#fff"/>
<rect x="174" y="209" width="1" height="21" fill="#000"/>
<rect x="172" y="217" width="5" height="12" fill="#000"/>
<rect x="173" y="218" width="3" height="10" fill="#fff"/>
<rect x="182" y="174" width="1" height="48" fill="#000"/>
<rect x="180" y="180" width="5" height="39" fill="#000"/>
<rect x="181" y="181" width="3" height="37" fill="#fff"/>
<rect x="190" y="161" width="1" height="26" fill="#000"/>
<rect x="188" y="162" width="5" height="18" fill="#000"/>
<rect x="189" y="163" width="3" height="16" fill="#fff"/>
<rect x="198" y="153" width="1" height="11" fill="#000"/>
<rect x="196" y="155" width="5" height="8" fill="#000"/>
<rect x="197" y="156" width="3" height="6" fill="#fff"/>
<rect x="206" y="154" width="1" height="22" fill="#000"/>
<rect x="204" y="155" width="5" height="12" fill="#000"/>
<rect x="214" y="164" width="1" height="11" fill="#000"/>
<rect x="212" y="167" width="5" height="5" fill="#000"/>
<rect x="222" y="159" width="1" height="14" fill="#000"/>
<rect x="220" y="164" width="5" height="6" fill="#000"/>
<rect x="221" y="165" width="3" height="4" fill="#fff"/>
<rect x="230" y="155" width="1" height="12" fill="#000"/>
<rect x="228" y="161" width="5" height="4" fill="#000"/>
<rect x="229" y="162" width="3" height="2" fill="#fff"/>
<rect x="238" y="147" width="1" height="17" fill="#000"/>
<rect x="236" y="159" width="5" height="3" fill="#000"/>
<rect x="237" y="160" width="3" height="1" fill="#fff"/>
<rect x="246" y="154" width="1" height="18" fill="#000"/>
<rect x="244" y="160" width="5" height="5" fill="#000"/>
<rect x="254" y="157" width="1" height="11" fill="#000"/>
<rect x="252" y="164" width="5" height="1" fill="#000"/>
<rect x="262" y="161" width="1" height="4" fill="#000"/>
<rect x="260" y="163" width="5" height="2" fill="#000"/>
<rect x="270" y="155" width="1" height="12" fill="#000"/>
<rect x="268" y="162" width="5" height="3" fill="#000"/>
<rect x="269" y="163" width="3" height="1" fill="#fff"/>
<rect x="278" y="157" width="1" height="13" fill="#000"/>
<rect x="276" y="157" width="5" height="4" fill="#000"/>
<rect x="277" y="158" width="3" height="2" fill="#fff"/>
<rect x="286" y="80" width="1" height="81" fill="#000"/>
<rect x="284" y="98" width="5" height="59" fill="#000"/>
<rect x="285" y="99" width="3" height="57" fill="#fff"/>
<rect x="294" y="50" width="1" height="53" fill="#000"/>
<rect x="292" y="62" width="5" height="36" fill="#000"/>
<rect x="293" y="63" width="3" height="34" fill="#fff"/>
<rect x="302" y="52" width="1" height="34" fill="#000"/>
<rect x="300" y="61" width="5" height="19" fill="#000"/>
<rect x="310" y="79" width="1" height="11" fill="#000"/>
<rect x="308" y="82" width="5" height="6" fill="#000"/>
<rect x="309" y="83" width="3" height="4" fill="#fff"/>
<rect x="318" y="75" width="1" height="64" fill="#000"/>
<rect x="316" y="81" width="5" height="34" fill="#000"/>
<rect x="326" y="105" width="1" height="54" fill="#000"/>
<rect x="324" y="114" width="5" height="27" fill="#000"/>
<rect x="334" y="121" width="1" height="27" fill="#000"/>
<rect x="332" y="137" width="5" height="3" fill="#000"/>
<rect x="333" y="138" width="3" height="1" fill="#fff"/>
<rect x="342" y="135" width="1" height="44" fill="#000"/>
<rect x="340" y="136" width="5" height="36" fill="#000"/>
<rect x="350" y="169" width="1" height="89" fill="#000"/>
<rect x="348" y="170" width="5" height="84" fill="#000"/>
<rect x="358" y="257" width="1" height="20" fill="#000"/>
<rect x="356" y="261" width="5" height="15" fill="#000"/>
<rect x="357" y="262" width="3" height="13" fill="#fff"/>
<rect x="366" y="219" width="1" height="56" fill="#000"/>
<rect x="364" y="222" width="5" height="37" fill="#000"/>
<rect x="365" y="223" width="3" height="35" fill="#fff"/>
<rect x="374" y="224" width="1" height="76" fill="#000"/>
<rect x="372" y="224" width="5" height="66" fill="#000"/>
<rect x="382" y="258" width="1" height="34" fill="#000"/>
<rect x="380" y="259" width="5" height="31" fill="#000"/>
<rect x="381" y="260" width="3" height="29" fill="#fff"/>
<rect x="390" y="261" width="1" height="80" fill="#000"/>
<rect x="388" y="263" width="5" height="65" fill="#000"/>
<rect x="398" y="323" width="1" height="64" fill="#000"/>
<rect x="396" y="327" width="5" height="50" fill="#000"/>
<rect x="406" y="420" width="1" height="26" fill="#000"/>
<rect x="404" y="435" width="5" height="11" fill="#000"/>
<rect x="405" y="436" width="3" height="9" fill="#fff"/>
<rect x="414" y="419" width="1" height="144" fill="#000"/>
<rect x="412" y="433" width="5" height="42" fill="#000"/>
<rect x="422" y="343" width="1" height="150" fill="#000"/>
<rect x="420" y="383" width="5" height="92" fill="#000"/>
<rect x="421" y="384" width="3" height="90" fill="#fff"/>
<rect x="430" y="370" width="1" height="58" fill="#000"/>
<rect x="428" y="385" width="5" height="23" fill="#000"/>
<rect x="438" y="334" width="1" height="141" fill="#000"/>
<rect x="436" y="401" width="5" height="3" fill="#000"/>
<rect x="437" y="402" width="3" height="1" fill="#fff"/>
<rect x="446" y="237" width="1" height="164" fill="#000"/>
<rect x="444" y="239" width="5" height="162" fill="#000"/>
<rect x="445" y="240" width="3" height="160" fill="#fff"/>
<rect x="454" y="300" width="1" height="53" fill="#000"/>
<rect x="452" y="316" width="5" height="5" fill="#000"/>
<rect x="453" y="317" width="3" height="3" fill="#fff"/>
<rect x="462" y="266" width="1" height="113" fill="#000"/>
<rect x="460" y="316" width="5" height="13" fill="#000"/>
<rect x="470" y="252" width="1" height="84" fill="#000"/>
<rect x="468" y="275" width="5" height="54" fill="#000"/>
<rect x="469" y="276" width="3" height="52" fill="#fff"/>
<rect x="478" y="216" width="1" height="89" fill="#000"/>
<rect x="476" y="229" width="5" height="47" fill="#000"/>
<rect x="477" y="230" width="3" height="45" fill="#fff"/>
<rect x="486" y="90" width="1" height="148" fill="#000"/>
<rect x="484" y="93" width="5" height="137" fill="#000"/>
<rect x="485" y="94" width="3" height="135" fill="#fff"/>
<rect x="494" y="83" width="1" height="103" fill="#000"/>
<rect x="492" y="92" width="5" height="8" fill="#000"/>
<rect x="502" y="103" width="1" height="38" fill="#000"/>
<rect x="500" y="104" width="5" height="33" fill="#000"/>
<rect x="510" y="79" width="1" height="91" fill="#000"/>
<rect x="508" y="116" width="5" height="20" fill="#000"/>
<rect x="509" y="117" width="3" height="18" fill="#fff"/>
<rect x="518" y="74" width="1" height="76" fill="#000"/>
<rect x="516" y="101" width="5" height="16" fill="#000"/>
<rect x="517" y="102" width="3" height="14" fill="#fff"/>
<rect x="526" y="76" width="1" height="44" fill="#000"/>
<rect x="524" y="102" width="5" height="14" fill="#000"/>
<rect x="534" y="109" width="1" height="88" fill="#000"/>
<rect x="532" y="113" width="5" height="82" fill="#000"/>
<rect x="542" y="182" width="1" height="75" fill="#000"/>
<rect x="540" y="192" width="5" height="65" fill="#000"/>
<rect x="550" y="257" width="1" height="20" fill="#000"/>
<rect x="548" y="262" width="5" height="10" fill="#000"/>
<rect x="558" y="232" width="1" height="56" fill="#000"/>
<rect x="556" y="243" width="5" height="29" fill="#000"/>
<rect x="557" y="244" width="3" height="27" fill="#fff"/>
<rect x="566" y="212" width="1" height="63" fill="#000"/>
<rect x="564" y="242" width="5" height="28" fill="#000"/>
<rect x="574" y="249" width="1" height="48" fill="#000"/>
<rect x="572" y="269" width="5" height="11" fill="#000"/>
<rect x="582" y="237" width="1" height="56" fill="#000"/>
<rect x="580" y="245" width="5" height="36" fill="#000"/>
<rect x="581" y="246" width="3" height="34" fill="#fff"/>
<rect x="590" y="215" width="1" height="41" fill="#000"/>
<rect x="588" y="233" width="5" height="13" fill="#000"/>
<rect x="589" y="234" width="3" height="11" fill="#fff"/>
<rect x="598" y="212" width="1" height="14" fill="#000"/>
<rect x="596" y="213" width="5" height="13" fill="#000"/>
<rect x="597" y="214" width="3" height="11" fill="#fff"/>
<rect x="606" y="182" width="1" height="34" fill="#000"/>
<rect x="604" y="194" width="5" height="20" fill="#000"/>
<rect x="605" y="195" width="3" height="18" fill="#fff"/>
<rect x="614" y="193" width="1" height="26" fill="#000"/>
<rect x="612" y="194" width="5" height="22" fill="#000"/>
<rect x="622" y="195" width="1" height="29" fill="#000"/>
<rect x="620" y="203" width="5" height="13" fill="#000"/>
<rect x="621" y="204" width="3" height="11" fill="#fff"/>
<rect x="630" y="197" width="1" height="40" fill="#000"/>
<rect x="628" y="203" width="5" height="24" fill="#000"/>
<rect x="638" y="228" width="1" height="7" fill="#000"/>
<rect x="636" y="229" width="5" height="2" fill="#000"/>
<rect x="646" y="228" width="1" height="42" fill="#000"/>
<rect x="644" y="230" width="5" height="34" fill="#000"/>
<rect x="654" y="257" width="1" height="37" fill="#000"/>
<rect x="652" y="263" width="5" height="25" fill="#000"/>
<rect x="662" y="253" width="1" height="44" fill="#000"/>
<rect x="660" y="264" width="5" height="24" fill="#000"/>
<rect x="661" y="265" width="3" height="22" fill="#fff"/>
<rect x="670" y="242" width="1" height="44" fill="#000"/>
<rect x="668" y="249" width="5" height="15" fill="#000"/>
<rect x="669" y="250" width="3" height="13" fill="#fff"/>
<rect x="678" y="248" width="1" height="32" fill="#000"/>
<rect x="676" y="249" width="5" height="17" fill="#000"/>
<rect x="686" y="260" width="1" height="6" fill="#000"/>
<rect x="684" y="260" width="5" height="4" fill="#000"/>
<rect x="685" y="261" width="3" height="2" fill="#fff"/>
<rect x="694" y="248" width="1" height="18" fill="#000"/>
<rect x="692" y="260" width="5" height="1" fill="#000"/>
<rect x="702" y="251" width="1" height="29" fill="#000"/>
<rect x="700" y="259" width="5" height="3" fill="#000"/>
<rect x="701" y="260" width="3" height="1" fill="#fff"/>
<rect x="710" y="249" width="1" height="21" fill="#000"/>
<rect x="708" y="254" width="5" height="4" fill="#000"/>
<rect x="709" y="255" width="3" height="2" fill="#fff"/>
<rect x="718" y="244" width="1" height="33" fill="#000"/>
<rect x="716" y="254" width="5" height="9" fill="#000"/>
<rect x="726" y="257" width="1" height="18" fill="#000"/>
<rect x="724" y="261" width="5" height="12" fill="#000"/>
<rect x="734" y="268" width="1" height="7" fill="#000"/>
<rect x="732" y="269" width="5" height="3" fill="#000"/>
<rect x="733" y="270" width="3" height="1" fill="#fff"/>
<rect x="742" y="264" width="1" height="30" fill="#000"/>
<rect x="740" y="269" width="5" height="11" fill="#000"/>
<rect x="750" y="277" width="1" height="37" fill="#000"/>
<rect x="748" y="279" width="5" height="26" fill="#000"/>
<rect x="758" y="303" width="1" height="20" fill="#000"/>
<rect x="756" y="303" width="5" height="8" fill="#000"/>
<rect x="766" y="269" width="1" height="52" fill="#000"/>
<rect x="764" y="279" width="5" height="32" fill="#000"/>
<rect x="765" y="280" width="3" height="30" fill="#fff"/>
<rect x="774" y="274" width="1" height="37" fill="#000"/>
<rect x="772" y="279" width="5" height="21" fill="#000"/>
<rect x="782" y="298" width="1" height="9" fill="#000"/>
<rect x="780" y="300" width="5" height="6" fill="#000"/>
<rect x="790" y="289" width="1" height="21" fill="#000"/>
<rect x="788" y="305" width="5" height="3" fill="#000"/>
<rect x="798" y="297" width="1" height="24" fill="#000"/>
<rect x="796" y="307" width="5" height="12" fill="#000"/>
<rect x="806" y="318" width="1" height="22" fill="#000"/>
<rect x="804" y="318" width="5" height="12" fill="#000"/>
<rect x="814" y="308" width="1" height="26" fill="#000"/>
<rect x="812" y="322" width="5" height="8" fill="#000"/>
<rect x="813" y="323" width="3" height="6" fill="#fff"/>
<rect x="822" y="305" width="1" height="25" fill="#000"/>
<rect x="820" y="308" width="5" height="15" fill="#000"/>
<rect x="821" y="309" width="3" height="13" fill="#fff"/>
<rect x="830" y="294" width="1" height="9" fill="#000"/>
<rect x="828" y="296" width="5" height="3" fill="#000"/>
<rect x="829" y="297" width="3" height="1" fill="#fff"/>
<rect x="838" y="257" width="1" height="47" fill="#000"/>
<rect x="836" y="265" width="5" height="32" fill="#000"/>
<rect x="837" y="266" width="3" height="30" fill="#fff"/>
<rect x="846" y="261" width="1" height="27" fill="#000"/>
<rect x="844" y="265" width="5" height="21" fill="#000"/>
<rect x="854" y="280" width="1" height="25" fill="#000"/>
<rect x="852" y="284" width="5" height="13" fill="#000"/>
<rect x="862" y="275" width="1" height="29" fill="#000"/>
<rect x="860" y="276" width="5" height="21" fill="#000"/>
<rect x="861" y="277" width="3" height="19" fill="#fff"/>
<rect x="870" y="272" width="1" height="28" fill="#000"/>
<rect x="868" y="276" width="5" height="4" fill="#000"/>
<rect x="878" y="280" width="1" height="6" fill="#000"/>
<rect x="876" y="280" width="5" height="4" fill="#000"/>
<rect x="886" y="269" width="1" height="21" fill="#000"/>
<rect x="884" y="275" width="5" height="7" fill="#000"/>
<rect x="885" y="276" width="3" height="5" fill="#fff"/>
<rect x="894" y="242" width="1" height="37" fill="#000"/>
<rect x="892" y="254" width="5" height="21" fill="#000"/>
<rect x="893" y="255" width="3" height="19" fill="#fff"/>
<rect x="902" y="247" width="1" height="31" fill="#000"/>
<rect x="900" y="254" width="5" height="12" fill="#000"/>
<rect x="910" y="253" width="1" height="15" fill="#000"/>
<rect x="908" y="263" width="5" height="2" fill="#000"/>
<rect x="918" y="257" width="1" height="21" fill="#000"/>
<rect x="916" y="262" width="5" height="4" fill="#000"/>
<rect x="926" y="256" width="1" height="5" fill="#000"/>
<rect x="924" y="258" width="5" height="3" fill="#000"/>
<rect x="925" y="259" width="3" height="1" fill="#fff"/>
<rect x="934" y="256" width="1" height="8" fill="#000"/>
<rect x="932" y="258" width="5" height="4" fill="#000"/>
<rect x="942" y="250" width="1" height="25" fill="#000"/>
<rect x="940" y="260" width="5" height="10" fill="#000"/>
<rect x="950" y="249" width="1" height="27" fill="#000"/>
<rect x="948" y="255" width="5" height="16" fill="#000"/>
<rect x="949" y="256" width="3" height="14" fill="#fff"/>
<rect x="958" y="251" width="1" height="16" fill="#000"/>
<rect x="956" y="255" width="5" height="8" fill="#000"/>
<rect x="966" y="251" width="1" height="39" fill="#000"/>
<rect x="964" y="255" width="5" height="9" fill="#000"/>
<rect x="965" y="256" width="3" height="7" fill="#fff"/>
<rect x="974" y="258" width="1" height="5" fill="#000"/>
<rect x="972" y="259" width="5" height="2" fill="#000"/>
<rect x="982" y="253" width="1" height="23" fill="#000"/>
<rect x="980" y="260" width="5" height="8" fill="#000"/>
<rect x="990" y="207" width="1" height="62" fill="#000"/>
<rect x="988" y="208" width="5" height="59" fill="#000"/>
<rect x="989" y="209" width="3" height="57" fill="#fff"/>
<rect x="998" y="198" width="1" height="29" fill="#000"/>
<rect x="996" y="200" width="5" height="9" fill="#000"/>
<rect x="997" y="201" width="3" height="7" fill="#fff"/>
<rect x="1006" y="190" width="1" height="28" fill="#000"/>
<rect x="1004" y="193" width="5" height="7" fill="#000"/>
<rect x="1005" y="194" width="3" height="5" fill="#fff"/>
<rect x="1014" y="160" width="1" height="39" fill="#000"/>
<rect x="1012" y="171" width="5" height="22" fill="#000"/>
<rect x="1013" y="172" width="3" height="20" fill="#fff"/>
<rect x="1022" y="168" width="1" height="6" fill="#000"/>
<rect x="1020" y="171" width="5" height="3" fill="#000"/>
<rect x="1021" y="172" width="3" height="1" fill="#fff"/>
<rect x="1030" y="171" width="1" height="65" fill="#000"/>
<rect x="1028" y="171" width="5" height="57" fill="#000"/>
<rect x="1038" y="227" width="1" height="37" fill="#000"/>
<rect x="1036" y="228" width="5" height="28" fill="#000"/>
<rect x="1046" y="252" width="1" height="46" fill="#000"/>
<rect x="1044" y="255" width="5" height="38" fill="#000"/>
<rect x="1054" y="282" width="1" height="31" fill="#000"/>
<rect x="1052" y="292" width="5" height="10" fill="#000"/>
<rect x="1062" y="267" width="1" height="46" fill="#000"/>
<rect x="1060" y="272" width="5" height="30" fill="#000"/>
<rect x="1061" y="273" width="3" height="28" fill="#fff"/>
<rect x="1070" y="271" width="1" height="9" fill="#000"/>
<rect x="1068" y="271" width="5" height="8" fill="#000"/>
<rect x="1078" y="270" width="1" height="23" fill="#000"/>
<rect x="1076" y="270" width="5" height="8" fill="#000"/>
<rect x="1077" y="271" width="3" height="6" fill="#fff"/>
<rect x="1086" y="263" width="1" height="21" fill="#000"/>
<rect x="1084" y="269" width="5" height="6" fill="#000"/>
<rect x="1094" y="272" width="1" height="27" fill="#000"/>
<rect x="1092" y="274" width="5" height="25" fill="#000"/>
<rect x="1102" y="286" width="1" height="23" fill="#000"/>
<rect x="1100" y="293" width="5" height="5" fill="#000"/>
<rect x="1101" y="294" width="3" height="3" fill="#fff"/>
<rect x="1110" y="290" width="1" height="14" fill="#000"/>
<rect x="1108" y="292" width="5" height="6" fill="#000"/>
<rect x="1118" y="298" width="1" height="5" fill="#000"/>
<rect x="1116" y="300" width="5" height="1" fill="#000"/>
<rect x="1126" y="292" width="1" height="12" fill="#000"/>
<rect x="1124" y="297" width="5" height="4" fill="#000"/>
<rect x="1125" y="298" width="3" height="2" fill="#fff"/>
<rect x="1134" y="282" width="1" height="54" fill="#000"/>
<rect x="1132" y="297" width="5" height="23" fill="#000"/>
<rect x="1142" y="286" width="1" height="35" fill="#000"/>
<rect x="1140" y="292" width="5" height="27" fill="#000"/>
<rect x="1141" y="293" width="3" height="25" fill="#fff"/>
<rect x="1150" y="271" width="1" height="22" fill="#000"/>
<rect x="1148" y="286" width="5" height="6" fill="#000"/>
<rect x="1149" y="287" width="3" height="4" fill="#fff"/>
<rect x="1158" y="276" width="1" height="26" fill="#000"/>
<rect x="1156" y="284" width="5" height="2" fill="#000"/>
<rect x="1166" y="282" width="1" height="5" fill="#000"/>
<rect x="1164" y="282" width="5" height="4" fill="#000"/>
<rect x="1165" y="283" width="3" height="2" fill="#fff"/>
<rect x="1174" y="251" width="1" height="41" fill="#000"/>
<rect x="1172" y="265" width="5" height="17" fill="#000"/>
<rect x="1173" y="266" width="3" height="15" fill="#fff"/>
<rect x="1182" y="246" width="1" height="23" fill="#000"/>
<rect x="1180" y="246" width="5" height="19" fill="#000"/>
<rect x="1181" y="247" width="3" height="17" fill="#fff"/>
<rect x="1190" y="239" width="1" height="39" fill="#000"/>
<rect x="1188" y="246" width="5" height="30" fill="#000"/>
<rect x="1198" y="259" width="1" height="19" fill="#000"/>
<rect x="1196" y="269" width="5" height="7" fill="#000"/>
<rect x="1197" y="270" width="3" height="5" fill="#fff"/>
<rect x="1206" y="266" width="1" height="7" fill="#000"/>
<rect x="1204" y="269" width="5" height="1" fill="#000"/>
<rect x="1214" y="265" width="1" height="3" fill="#000"/>
<rect x="1212" y="265" width="5" height="3" fill="#000"/>
<rect x="1213" y="266" width="3" height="1" fill="#fff"/>
<rect x="1222" y="257" width="1" height="25" fill="#000"/>
<rect x="1220" y="265" width="5" height="12" fill="#000"/>
<rect x="1230" y="256" width="1" height="26" fill="#000"/>
<rect x="1228" y="266" width="5" height="11" fill="#000"/>
<rect x="1229" y="267" width="3" height="9" fill="#fff"/>
<rect x="1238" y="259" width="1" height="25" fill="#000"/>
<rect x="1236" y="266" width="5" height="14" fill="#000"/>
<rect x="1246" y="274" width="1" height="15" fill="#000"/>
<rect x="1244" y="279" width="5" height="3" fill="#000"/>
<rect x="1254" y="280" width="1" height="30" fill="#000"/>
<rect x="1252" y="281" width="5" height="15" fill="#000"/>
<rect x="1262" y="296" width="1" height="4" fill="#000"/>
<rect x="1260" y="296" width="5" height="2" fill="#000"/>
<rect x="1270" y="278" width="1" height="25" fill="#000"/>
<rect x="1268" y="279" width="5" height="18" fill="#000"/>
<rect x="1269" y="280" width="3" height="16" fill="#fff"/>
<rect x="1278" y="273" width="1" height="15" fill="#000"/>
<rect x="1276" y="279" width="5" height="2" fill="#000"/>
<rect x="1286" y="278" width="1" height="31" fill="#000"/>
<rect x="1284" y="281" width="5" height="17" fill="#000"/>
<rect x="1294" y="274" width="1" height="27" fill="#000"/>
<rect x="1292" y="279" width="5" height="19" fill="#000"/>
<rect x="1293" y="280" width="3" height="17" fill="#fff"/>
<rect x="1302" y="276" width="1" height="20" fill="#000"/>
<rect x="1300" y="279" width="5" height="16" fill="#000"/>
<rect x="1310" y="288" width="1" height="5" fill="#000"/>
<rect x="1308" y="288" width="5" height="4" fill="#000"/>
<rect x="1309" y="289" width="3" height="2" fill="#fff"/>
<rect x="1318" y="268" width="1" height="24" fill="#000"/>
<rect x="1316" y="285" width="5" height="3" fill="#000"/>
<rect x="1317" y="286" width="3" height="1" fill="#fff"/>
<rect x="1326" y="275" width="1" height="33" fill="#000"/>
<rect x="1324" y="284" width="5" height="18" fill="#000"/>
<rect x="1334" y="279" width="1" height="23" fill="#000"/>
<rect x="1332" y="284" width="5" height="18" fill="#000"/>
<rect x="1333" y="285" width="3" height="16" fill="#fff"/>
<rect x="1342" y="282" width="1" height="25" fill="#000"/>
<rect x="1340" y="285" width="5" height="15" fill="#000"/>
<rect x="1350" y="299" width="1" height="56" fill="#000"/>
<rect x="1348" y="300" width="5" height="40" fill="#000"/>
<rect x="1358" y="336" width="1" height="5" fill="#000"/>
<rect x="1356" y="339" width="5" height="2" fill="#000"/>
<rect x="1366" y="336" width="1" height="45" fill="#000"/>
<rect x="1364" y="339" width="5" height="27" fill="#000"/>
<rect x="1374" y="353" width="1" height="35" fill="#000"/>
<rect x="1372" y="368" width="5" height="13" fill="#000"/>
<rect x="1382" y="374" width="1" height="17" fill="#000"/>
<rect x="1380" y="380" width="5" height="4" fill="#000"/>
<rect x="1390" y="373" width="1" height="29" fill="#000"/>
<rect x="1388" y="383" width="5" height="18" fill="#000"/>
<rect x="1398" y="336" width="1" height="89" fill="#000"/>
<rect x="1396" y="350" width="5" height="49" fill="#000"/>
<rect x="1397" y="351" width="3" height="47" fill="#fff"/>
<rect x="1406" y="344" width="1" height="6" fill="#000"/>
<rect x="1404" y="345" width="5" height="5" fill="#000"/>
<rect x="1405" y="346" width="3" height="3" fill="#fff"/>
<rect x="1414" y="317" width="1" height="42" fill="#000"/>
<rect x="1412" y="339" width="5" height="7" fill="#000"/>
<rect x="1413" y="340" width="3" height="5" fill="#fff"/>
<rect x="1422" y="330" width="1" height="28" fill="#000"/>
<rect x="1420" y="337" width="5" height="20" fill="#000"/>
<rect x="1430" y="345" width="1" height="21" fill="#000"/>
<rect x="1428" y="357" width="5" height="3" fill="#000"/>
<rect x="1438" y="353" width="1" height="8" fill="#000"/>
<rect x="1436" y="359" width="5" height="2" fill="#000"/>
<rect x="1326" y="366" width="155" height="7" fill="#00ff00"/>
<line x1="1323.8" y1="286.8" x2="1394.79" y2="418.44" stroke="#ff0000" stroke-width="3.6" stroke-linecap="round" shape-rendering="auto"/>
<polygon points="1399.3,426.8 1388.74,419.43 1398.95,413.93" fill="#ff0000" stroke="#ff0000" stroke-width="1" stroke-linejoin="round" shape-rendering="auto"/>
<line x1="1399.3" y1="426.3" x2="1413.33" y2="336.59" stroke="#ff0000" stroke-width="3.6" stroke-linecap="round" shape-rendering="auto"/>
<polygon points="1414.8,327.2 1418.75,339.46 1407.29,337.67" fill="#ff0000" stroke="#ff0000" stroke-width="1" stroke-linejoin="round" shape-rendering="auto"/>
<line x1="1414.8" y1="327.7" x2="1435.14" y2="361.84" stroke="#ff0000" stroke-width="3.6" stroke-linecap="round" shape-rendering="auto"/>
<polygon points="1440.0,370.0 1429.13,363.09 1439.10,357.15" fill="#ff0000" stroke="#ff0000" stroke-width="1" stroke-linejoin="round" shape-rendering="auto"/>
<rect x="1231" y="368" width="10" height="1" fill="#ff0000"/>
<rect x="1241.5" y="356.5" width="73" height="24" fill="#fff" stroke="#ff0000" stroke-width="1"/>
<text x="1242.6" y="377" font-size="22" fill="#ff0000" text-anchor="start" font-family='"DejaVu Sans", "Liberation Sans", sans-serif' font-weight="normal" textLength="71" lengthAdjust="spacingAndGlyphs" stroke="#ff0000" stroke-width="0.35">105.367</text>
<text x="1523.5" y="378.6" font-size="20.5" fill="#00ff00" font-family='"Noto Sans CJK SC", "WenQuanYi Zen Hei", sans-serif' font-weight="400" textLength="111" lengthAdjust="spacingAndGlyphs">多空转折点</text>
</g>
<g clip-path="url(#cd)">
<rect x="6" y="636" width="1" height="8" fill="#c0c0c0"/>
<rect x="14" y="636" width="1" height="4" fill="#c0c0c0"/>
<rect x="22" y="635" width="1" height="2" fill="#c0c0c0"/>
<rect x="30" y="630" width="1" height="7" fill="#c0c0c0"/>
<rect x="38" y="627" width="1" height="10" fill="#c0c0c0"/>
<rect x="46" y="624" width="1" height="13" fill="#c0c0c0"/>
<rect x="54" y="620" width="1" height="17" fill="#c0c0c0"/>
<rect x="62" y="618" width="1" height="19" fill="#c0c0c0"/>
<rect x="70" y="616" width="1" height="21" fill="#c0c0c0"/>
<rect x="78" y="615" width="1" height="22" fill="#c0c0c0"/>
<rect x="86" y="615" width="1" height="22" fill="#c0c0c0"/>
<rect x="94" y="617" width="1" height="20" fill="#c0c0c0"/>
<rect x="102" y="620" width="1" height="17" fill="#c0c0c0"/>
<rect x="110" y="624" width="1" height="13" fill="#c0c0c0"/>
<rect x="118" y="629" width="1" height="8" fill="#c0c0c0"/>
<rect x="126" y="633" width="1" height="4" fill="#c0c0c0"/>
<rect x="134" y="635" width="1" height="2" fill="#c0c0c0"/>
<rect x="142" y="636" width="1" height="2" fill="#c0c0c0"/>
<rect x="150" y="636" width="1" height="5" fill="#c0c0c0"/>
<rect x="158" y="636" width="1" height="10" fill="#c0c0c0"/>
<rect x="166" y="636" width="1" height="13" fill="#c0c0c0"/>
<rect x="174" y="636" width="1" height="14" fill="#c0c0c0"/>
<rect x="182" y="636" width="1" height="11" fill="#c0c0c0"/>
<rect x="190" y="636" width="1" height="6" fill="#c0c0c0"/>
<rect x="206" y="633" width="1" height="4" fill="#c0c0c0"/>
<rect x="214" y="632" width="1" height="5" fill="#c0c0c0"/>
<rect x="222" y="630" width="1" height="7" fill="#c0c0c0"/>
<rect x="230" y="628" width="1" height="9" fill="#c0c0c0"/>
<rect x="238" y="627" width="1" height="10" fill="#c0c0c0"/>
<rect x="246" y="626" width="1" height="11" fill="#c0c0c0"/>
<rect x="254" y="626" width="1" height="11" fill="#c0c0c0"/>
<rect x="262" y="626" width="1" height="11" fill="#c0c0c0"/>
<rect x="270" y="626" width="1" height="11" fill="#c0c0c0"/>
<rect x="278" y="625" width="1" height="12" fill="#c0c0c0"/>
<rect x="286" y="618" width="1" height="19" fill="#c0c0c0"/>
<rect x="294" y="608" width="1" height="29" fill="#c0c0c0"/>
<rect x="302" y="602" width="1" height="35" fill="#c0c0c0"/>
<rect x="310" y="599" width="1" height="38" fill="#c0c0c0"/>
<rect x="318" y="600" width="1" height="37" fill="#c0c0c0"/>
<rect x="326" y="605" width="1" height="32" fill="#c0c0c0"/>
<rect x="334" y="609" width="1" height="28" fill="#c0c0c0"/>
<rect x="342" y="616" width="1" height="21" fill="#c0c0c0"/>
<rect x="350" y="632" width="1" height="5" fill="#c0c0c0"/>
<rect x="358" y="636" width="1" height="10" fill="#c0c0c0"/>
<rect x="366" y="636" width="1" height="16" fill="#c0c0c0"/>
<rect x="374" y="636" width="1" height="28" fill="#c0c0c0"/>
<rect x="382" y="636" width="1" height="34" fill="#c0c0c0"/>
<rect x="390" y="636" width="1" height="46" fill="#c0c0c0"/>
<rect x="398" y="636" width="1" height="61" fill="#c0c0c0"/>
<rect x="406" y="636" width="1" height="79" fill="#c0c0c0"/>
<rect x="414" y="636" width="1" height="97" fill="#c0c0c0"/>
<rect x="422" y="636" width="1" height="99" fill="#c0c0c0"/>
<rect x="430" y="636" width="1" height="103" fill="#c0c0c0"/>
<rect x="438" y="636" width="1" height="103" fill="#c0c0c0"/>
<rect x="446" y="636" width="1" height="83" fill="#c0c0c0"/>
<rect x="454" y="636" width="1" height="76" fill="#c0c0c0"/>
<rect x="462" y="636" width="1" height="71" fill="#c0c0c0"/>
<rect x="470" y="636" width="1" height="60" fill="#c0c0c0"/>
<rect x="478" y="636" width="1" height="45" fill="#c0c0c0"/>
<rect x="486" y="636" width="1" height="16" fill="#c0c0c0"/>
<rect x="494" y="629" width="1" height="8" fill="#c0c0c0"/>
<rect x="502" y="617" width="1" height="20" fill="#c0c0c0"/>
<rect x="510" y="605" width="1" height="32" fill="#c0c0c0"/>
<rect x="518" y="594" width="1" height="43" fill="#c0c0c0"/>
<rect x="526" y="588" width="1" height="49" fill="#c0c0c0"/>
<rect x="534" y="593" width="1" height="44" fill="#c0c0c0"/>
<rect x="542" y="605" width="1" height="32" fill="#c0c0c0"/>
<rect x="550" y="616" width="1" height="21" fill="#c0c0c0"/>
<rect x="558" y="622" width="1" height="15" fill="#c0c0c0"/>
<rect x="566" y="630" width="1" height="7" fill="#c0c0c0"/>
<rect x="574" y="636" width="1" height="2" fill="#c0c0c0"/>
<rect x="582" y="636" width="1" height="4" fill="#c0c0c0"/>
<rect x="590" y="636" width="1" height="4" fill="#c0c0c0"/>
<rect x="606" y="632" width="1" height="5" fill="#c0c0c0"/>
<rect x="614" y="631" width="1" height="6" fill="#c0c0c0"/>
<rect x="622" y="629" width="1" height="8" fill="#c0c0c0"/>
<rect x="630" y="630" width="1" height="7" fill="#c0c0c0"/>
<rect x="638" y="632" width="1" height="5" fill="#c0c0c0"/>
<rect x="646" y="636" width="1" height="2" fill="#c0c0c0"/>
<rect x="654" y="636" width="1" height="9" fill="#c0c0c0"/>
<rect x="662" y="636" width="1" height="12" fill="#c0c0c0"/>
<rect x="670" y="636" width="1" height="12" fill="#c0c0c0"/>
<rect x="678" y="636" width="1" height="14" fill="#c0c0c0"/>
<rect x="686" y="636" width="1" height="14" fill="#c0c0c0"/>
<rect x="694" y="636" width="1" height="15" fill="#c0c0c0"/>
<rect x="702" y="636" width="1" height="15" fill="#c0c0c0"/>
<rect x="710" y="636" width="1" height="14" fill="#c0c0c0"/>
<rect x="718" y="636" width="1" height="14" fill="#c0c0c0"/>
<rect x="726" y="636" width="1" height="16" fill="#c0c0c0"/>
<rect x="734" y="636" width="1" height="16" fill="#c0c0c0"/>
<rect x="742" y="636" width="1" height="18" fill="#c0c0c0"/>
<rect x="750" y="636" width="1" height="21" fill="#c0c0c0"/>
<rect x="758" y="636" width="1" height="25" fill="#c0c0c0"/>
<rect x="766" y="636" width="1" height="24" fill="#c0c0c0"/>
<rect x="774" y="636" width="1" height="25" fill="#c0c0c0"/>
<rect x="782" y="636" width="1" height="26" fill="#c0c0c0"/>
<rect x="790" y="636" width="1" height="27" fill="#c0c0c0"/>
<rect x="798" y="636" width="1" height="29" fill="#c0c0c0"/>
<rect x="806" y="636" width="1" height="32" fill="#c0c0c0"/>
<rect x="814" y="636" width="1" height="32" fill="#c0c0c0"/>
<rect x="822" y="636" width="1" height="31" fill="#c0c0c0"/>
<rect x="830" y="636" width="1" height="28" fill="#c0c0c0"/>
<rect x="838" y="636" width="1" height="22" fill="#c0c0c0"/>
<rect x="846" y="636" width="1" height="19" fill="#c0c0c0"/>
<rect x="854" y="636" width="1" height="18" fill="#c0c0c0"/>
<rect x="862" y="636" width="1" height="14" fill="#c0c0c0"/>
<rect x="870" y="636" width="1" height="12" fill="#c0c0c0"/>
<rect x="878" y="636" width="1" height="10" fill="#c0c0c0"/>
<rect x="886" y="636" width="1" height="8" fill="#c0c0c0"/>
<rect x="894" y="636" width="1" height="3" fill="#c0c0c0"/>
<rect x="910" y="634" width="1" height="3" fill="#c0c0c0"/>
<rect x="918" y="633" width="1" height="4" fill="#c0c0c0"/>
<rect x="926" y="631" width="1" height="6" fill="#c0c0c0"/>
<rect x="934" y="630" width="1" height="7" fill="#c0c0c0"/>
<rect x="942" y="631" width="1" height="6" fill="#c0c0c0"/>
<rect x="950" y="629" width="1" height="8" fill="#c0c0c0"/>
<rect x="958" y="629" width="1" height="8" fill="#c0c0c0"/>
<rect x="966" y="628" width="1" height="9" fill="#c0c0c0"/>
<rect x="974" y="628" width="1" height="9" fill="#c0c0c0"/>
<rect x="982" y="629" width="1" height="8" fill="#c0c0c0"/>
<rect x="990" y="623" width="1" height="14" fill="#c0c0c0"/>
<rect x="998" y="617" width="1" height="20" fill="#c0c0c0"/>
<rect x="1006" y="612" width="1" height="25" fill="#c0c0c0"/>
<rect x="1014" y="605" width="1" height="32" fill="#c0c0c0"/>
<rect x="1022" y="601" width="1" height="36" fill="#c0c0c0"/>
<rect x="1030" y="604" width="1" height="33" fill="#c0c0c0"/>
<rect x="1038" y="611" width="1" height="26" fill="#c0c0c0"/>
<rect x="1046" y="621" width="1" height="16" fill="#c0c0c0"/>
<rect x="1054" y="629" width="1" height="8" fill="#c0c0c0"/>
<rect x="1062" y="633" width="1" height="4" fill="#c0c0c0"/>
<rect x="1070" y="636" width="1" height="2" fill="#c0c0c0"/>
<rect x="1078" y="636" width="1" height="3" fill="#c0c0c0"/>
<rect x="1086" y="636" width="1" height="5" fill="#c0c0c0"/>
<rect x="1094" y="636" width="1" height="10" fill="#c0c0c0"/>
<rect x="1102" y="636" width="1" height="12" fill="#c0c0c0"/>
<rect x="1110" y="636" width="1" height="15" fill="#c0c0c0"/>
<rect x="1118" y="636" width="1" height="17" fill="#c0c0c0"/>
<rect x="1126" y="636" width="1" height="18" fill="#c0c0c0"/>
<rect x="1134" y="636" width="1" height="21" fill="#c0c0c0"/>
<rect x="1142" y="636" width="1" height="20" fill="#c0c0c0"/>
<rect x="1150" y="636" width="1" height="19" fill="#c0c0c0"/>
<rect x="1158" y="636" width="1" height="17" fill="#c0c0c0"/>
<rect x="1166" y="636" width="1" height="15" fill="#c0c0c0"/>
<rect x="1174" y="636" width="1" height="12" fill="#c0c0c0"/>
<rect x="1182" y="636" width="1" height="7" fill="#c0c0c0"/>
<rect x="1190" y="636" width="1" height="6" fill="#c0c0c0"/>
<rect x="1198" y="636" width="1" height="5" fill="#c0c0c0"/>
<rect x="1206" y="636" width="1" height="4" fill="#c0c0c0"/>
<rect x="1214" y="636" width="1" height="2" fill="#c0c0c0"/>
<rect x="1222" y="636" width="1" height="2" fill="#c0c0c0"/>
<rect x="1238" y="636" width="1" height="2" fill="#c0c0c0"/>
<rect x="1246" y="636" width="1" height="3" fill="#c0c0c0"/>
<rect x="1254" y="636" width="1" height="5" fill="#c0c0c0"/>
<rect x="1262" y="636" width="1" height="7" fill="#c0c0c0"/>
<rect x="1270" y="636" width="1" height="7" fill="#c0c0c0"/>
<rect x="1278" y="636" width="1" height="6" fill="#c0c0c0"/>
<rect x="1286" y="636" width="1" height="8" fill="#c0c0c0"/>
<rect x="1294" y="636" width="1" height="7" fill="#c0c0c0"/>
<rect x="1302" y="636" width="1" height="8" fill="#c0c0c0"/>
<rect x="1310" y="636" width="1" height="8" fill="#c0c0c0"/>
<rect x="1318" y="636" width="1" height="7" fill="#c0c0c0"/>
<rect x="1326" y="636" width="1" height="9" fill="#c0c0c0"/>
<rect x="1334" y="636" width="1" height="8" fill="#c0c0c0"/>
<rect x="1342" y="636" width="1" height="9" fill="#c0c0c0"/>
<rect x="1350" y="636" width="1" height="14" fill="#c0c0c0"/>
<rect x="1358" y="636" width="1" height="18" fill="#c0c0c0"/>
<rect x="1366" y="636" width="1" height="25" fill="#c0c0c0"/>
<rect x="1374" y="636" width="1" height="31" fill="#c0c0c0"/>
<rect x="1382" y="636" width="1" height="36" fill="#c0c0c0"/>
<rect x="1390" y="636" width="1" height="41" fill="#c0c0c0"/>
<rect x="1398" y="636" width="1" height="39" fill="#c0c0c0"/>
<rect x="1406" y="636" width="1" height="37" fill="#c0c0c0"/>
<rect x="1414" y="636" width="1" height="33" fill="#c0c0c0"/>
<rect x="1422" y="636" width="1" height="33" fill="#c0c0c0"/>
<rect x="1430" y="636" width="1" height="32" fill="#c0c0c0"/>
<rect x="1438" y="636" width="1" height="31" fill="#c0c0c0"/>
<polyline points="-1.5,645.3 6.5,645.8 14.5,645.8 22.5,645.8 30.5,644.8 38.5,641.7 46.5,639.8 54.5,636.9 62.5,631.7 70.5,628.5 78.5,625.4 86.5,622.7 94.5,620.7 102.5,619.6 110.5,619.2 118.5,619.8 126.5,621.3 134.5,623.2 142.5,625.6 150.5,628.4 158.5,631.7 166.5,635.1 174.5,638.4 182.5,640.9 190.5,642.1 198.5,642.4 206.5,642.2 214.5,641.6 222.5,640.5 230.5,638.7 238.5,636.3 246.5,633.7 254.5,631.6 262.5,629.9 270.5,628.8 278.5,627.9 286.5,626.3 294.5,623.9 302.5,621.0 310.5,617.9 318.5,615.0 326.5,612.6 334.5,610.7 342.5,609.6 350.5,610.3 358.5,613.4 366.5,618.2 374.5,624.9 382.5,632.7 390.5,641.6 398.5,651.8 406.5,663.5 414.5,676.4 422.5,687.8 430.5,698.1 438.5,707.8 446.5,713.9 454.5,718.6 462.5,721.4 470.5,721.2 478.5,717.4 486.5,708.4 494.5,696.8 502.5,683.4 510.5,668.5 518.5,654.7 526.5,641.0 534.5,628.4 542.5,618.3 550.5,611.3 558.5,608.0 566.5,608.0 574.5,610.3 582.5,614.1 590.5,619.0 598.5,624.4 606.5,628.8 614.5,631.8 622.5,633.2 630.5,634.2 638.5,634.5 646.5,634.5 654.5,635.1 662.5,636.0 670.5,637.2 678.5,639.0 686.5,641.1 694.5,643.4 702.5,645.5 710.5,647.4 718.5,648.8 726.5,649.5 734.5,650.0 742.5,650.6 750.5,651.5 758.5,652.6 766.5,653.6 774.5,654.7 782.5,656.1 790.5,657.5 798.5,659.0 806.5,660.7 814.5,662.3 822.5,663.4 830.5,663.7 838.5,663.4 846.5,662.8 854.5,661.8 862.5,660.4 870.5,658.4 878.5,656.1 886.5,653.3 894.5,650.3 902.5,647.4 910.5,644.9 918.5,642.6 926.5,640.3 934.5,638.2 942.5,636.4 950.5,634.6 958.5,633.1 966.5,631.9 974.5,631.0 982.5,630.4 990.5,629.2 998.5,627.6 1006.5,625.5 1014.5,622.7 1022.5,619.6 1030.5,616.8 1038.5,614.9 1046.5,614.1 1054.5,614.1 1062.5,615.3 1070.5,617.5 1078.5,620.4 1086.5,624.3 1094.5,629.1 1102.5,633.9 1110.5,638.2 1118.5,641.7 1126.5,644.3 1134.5,646.9 1142.5,649.0 1150.5,650.7 1158.5,652.0 1166.5,652.7 1174.5,652.6 1182.5,651.7 1190.5,650.5 1198.5,649.0 1206.5,647.0 1214.5,645.0 1222.5,643.2 1230.5,641.4 1238.5,640.0 1246.5,639.0 1254.5,638.9 1262.5,639.0 1270.5,639.3 1278.5,639.6 1286.5,640.2 1294.5,640.7 1302.5,641.4 1310.5,642.0 1318.5,642.5 1326.5,642.8 1334.5,642.9 1342.5,643.1 1350.5,644.0 1358.5,645.2 1366.5,647.2 1374.5,649.8 1382.5,652.9 1390.5,656.7 1398.5,660.1 1406.5,663.3 1414.5,666.0 1422.5,668.1 1430.5,669.5 1438.5,670.3" fill="none" stroke="#ff0000" stroke-width="1" stroke-dasharray="3 3"/>
</g>
<g clip-path="url(#cr)">
<line x1="0" y1="786.5" x2="1689" y2="786.5" stroke="#c0c0c0" stroke-width="1" stroke-dasharray="3 3" stroke-dashoffset="1"/>
<line x1="0" y1="837.5" x2="1689" y2="837.5" stroke="#c0c0c0" stroke-width="1" stroke-dasharray="3 3" stroke-dashoffset="1"/>
<line x1="0" y1="898.5" x2="1689" y2="898.5" stroke="#c0c0c0" stroke-width="1" stroke-dasharray="3 3" stroke-dashoffset="1"/>
<polyline points="-1.5,834.5 6.5,824.6 14.5,824.4 22.5,823.8 30.5,815.0 38.5,819.5 46.5,819.3 54.5,813.4 62.5,813.7 70.5,813.5 78.5,813.5 86.5,822.6 94.5,830.2 102.5,835.2 110.5,844.9 118.5,856.2 126.5,851.8 134.5,844.9 142.5,848.9 150.5,851.7 158.5,863.8 166.5,862.2 174.5,853.8 182.5,831.7 190.5,823.6 198.5,820.6 206.5,827.4 214.5,830.4 222.5,826.9 230.5,825.4 238.5,824.4 246.5,828.1 254.5,828.1 262.5,828.1 270.5,826.7 278.5,823.3 286.5,797.0 294.5,788.3 302.5,800.6 310.5,802.7 318.5,822.6 326.5,835.3 334.5,834.0 342.5,848.2 350.5,870.3 358.5,871.9 366.5,855.9 374.5,869.6 382.5,859.3 390.5,870.8 398.5,877.2 406.5,883.6 414.5,887.2 422.5,862.9 430.5,865.9 438.5,864.4 446.5,833.8 454.5,844.9 462.5,846.6 470.5,838.3 478.5,831.8 486.5,816.4 494.5,817.4 502.5,823.5 510.5,821.2 518.5,819.5 526.5,822.1 534.5,835.6 542.5,844.4 550.5,846.5 558.5,841.9 566.5,845.7 574.5,847.2 582.5,841.1 590.5,839.0 598.5,835.4 606.5,832.1 614.5,836.3 622.5,834.0 630.5,838.9 638.5,839.7 646.5,846.6 654.5,851.3 662.5,845.5 670.5,841.9 678.5,845.4 686.5,844.1 694.5,844.1 702.5,843.8 710.5,842.2 718.5,844.6 726.5,847.6 734.5,846.5 742.5,849.7 750.5,857.3 758.5,859.0 766.5,845.8 774.5,852.0 782.5,853.8 790.5,854.5 798.5,858.0 806.5,861.4 814.5,857.7 822.5,850.5 830.5,844.8 838.5,831.8 846.5,840.0 854.5,844.3 862.5,836.1 870.5,837.3 878.5,839.1 886.5,835.5 894.5,826.8 902.5,832.3 910.5,831.6 918.5,832.4 926.5,829.1 934.5,830.9 942.5,835.7 950.5,828.3 958.5,832.7 966.5,829.0 974.5,832.3 982.5,836.9 990.5,810.6 998.5,808.1 1006.5,805.9 1014.5,799.7 1022.5,799.7 1030.5,831.8 1038.5,843.1 1046.5,855.1 1054.5,857.7 1062.5,845.6 1070.5,847.6 1078.5,844.3 1086.5,845.8 1094.5,854.1 1102.5,851.7 1110.5,853.2 1118.5,854.3 1126.5,852.6 1134.5,860.8 1142.5,846.6 1150.5,843.7 1158.5,842.9 1166.5,841.6 1174.5,833.1 1182.5,824.8 1190.5,839.3 1198.5,836.5 1206.5,836.5 1214.5,834.6 1222.5,840.4 1230.5,835.1 1238.5,842.1 1246.5,843.1 1254.5,850.3 1262.5,851.2 1270.5,840.0 1278.5,840.6 1286.5,849.8 1294.5,838.9 1302.5,846.7 1310.5,843.2 1318.5,841.4 1326.5,849.9 1334.5,839.7 1342.5,847.4 1350.5,863.3 1358.5,863.7 1366.5,871.6 1374.5,875.7 1382.5,876.5 1390.5,880.8 1398.5,852.1 1406.5,849.8 1414.5,846.9 1422.5,853.3 1430.5,854.4 1438.5,854.8" fill="none" stroke="#1e90ff" stroke-width="1"/>
</g>
<polygon points="1,34 8,34 4.5,30" fill="#000" shape-rendering="auto"/>
<text x="13" y="35" font-size="10.5" fill="#000" text-anchor="start" font-family='"DejaVu Sans", "Liberation Sans", sans-serif' font-weight="normal" textLength="63.5" lengthAdjust="spacingAndGlyphs" stroke="#000" stroke-width="0.3">USDJPY-,Daily</text>
<text x="83.5" y="35" font-size="10.5" fill="#000" text-anchor="start" font-family='"DejaVu Sans", "Liberation Sans", sans-serif' font-weight="normal" textLength="140.5" lengthAdjust="spacingAndGlyphs" stroke="#000" stroke-width="0.3">105.559 105.690 105.294 105.537</text>
<defs>
<linearGradient id="gtop" x1="0" y1="0" x2="0" y2="1"><stop offset="0" stop-color="#5858ff"/><stop offset="1" stop-color="#3a3ae8"/></linearGradient>
<linearGradient id="gbot" x1="0" y1="0" x2="0" y2="1"><stop offset="0" stop-color="#3535e0"/><stop offset="0.55" stop-color="#1a1ac8"/><stop offset="1" stop-color="#0000a8"/></linearGradient>
<linearGradient id="gbtn" x1="0" y1="0" x2="0" y2="1"><stop offset="0" stop-color="#f2f2f2"/><stop offset="0.45" stop-color="#e6e6e6"/><stop offset="0.5" stop-color="#d6d6d6"/><stop offset="1" stop-color="#d0d0d0"/></linearGradient>
</defs>
<rect x="1" y="43" width="52" height="24" fill="#0000a0"/>
<rect x="2" y="44" width="50" height="23" fill="url(#gtop)"/>
<rect x="1" y="67" width="109" height="40" fill="#0000a0"/>
<rect x="2" y="67" width="107" height="39" fill="url(#gbot)"/>
<rect x="2" y="65" width="50" height="4" fill="#3c3ce6"/>
<rect x="5" y="66" width="44" height="1" fill="#10107a"/>
<rect x="5" y="67" width="44" height="1" fill="#7070ff"/>
<text x="13.5" y="60" font-size="12.5" fill="#fff" text-anchor="start" font-family='"DejaVu Sans", "Liberation Sans", sans-serif' font-weight="normal" textLength="25" lengthAdjust="spacingAndGlyphs">SELL</text>
<rect x="168" y="43" width="52" height="24" fill="#0000a0"/>
<rect x="169" y="44" width="50" height="23" fill="url(#gtop)"/>
<rect x="112" y="67" width="108" height="40" fill="#0000a0"/>
<rect x="113" y="67" width="106" height="39" fill="url(#gbot)"/>
<rect x="169" y="65" width="50" height="4" fill="#3c3ce6"/>
<rect x="172" y="66" width="44" height="1" fill="#10107a"/>
<rect x="172" y="67" width="44" height="1" fill="#7070ff"/>
<text x="181" y="60" font-size="12.5" fill="#fff" text-anchor="start" font-family='"DejaVu Sans", "Liberation Sans", sans-serif' font-weight="normal" textLength="25" lengthAdjust="spacingAndGlyphs">BUY</text>
<rect x="55" y="43" width="111" height="22" fill="#a9a9a9"/>
<rect x="56" y="44" width="109" height="20" fill="#ffffff"/>
<rect x="56" y="44" width="20" height="20" fill="url(#gbtn)"/>
<rect x="76" y="44" width="1" height="20" fill="#b4b4b4"/>
<rect x="145" y="44" width="20" height="20" fill="url(#gbtn)"/>
<rect x="144" y="44" width="1" height="20" fill="#b4b4b4"/>
<polygon points="63,53 69,53 66,57" fill="#5060b0" shape-rendering="auto"/>
<polygon points="152,55 158,55 155,51" fill="#5060b0" shape-rendering="auto"/>
<text x="140.5" y="59" font-size="12.5" fill="#000" text-anchor="end" font-family='"DejaVu Sans", "Liberation Sans", sans-serif' font-weight="normal" textLength="22" lengthAdjust="spacingAndGlyphs">1.00</text>
<text x="24" y="98" font-size="12" fill="#fff" text-anchor="start" font-family='"DejaVu Sans", "Liberation Sans", sans-serif' font-weight="bold" textLength="20" lengthAdjust="spacingAndGlyphs">105</text>
<text x="49" y="98" font-size="34" fill="#fff" text-anchor="start" font-family='"Liberation Sans", sans-serif' font-weight="normal" textLength="33" lengthAdjust="spacingAndGlyphs">53</text>
<text x="88.5" y="82" font-size="13" fill="#fff" text-anchor="start" font-family='"DejaVu Sans", "Liberation Sans", sans-serif' font-weight="bold" textLength="6" lengthAdjust="spacingAndGlyphs">7</text>
<text x="134" y="98" font-size="12" fill="#fff" text-anchor="start" font-family='"DejaVu Sans", "Liberation Sans", sans-serif' font-weight="bold" textLength="20" lengthAdjust="spacingAndGlyphs">105</text>
<text x="160" y="98" font-size="34" fill="#fff" text-anchor="start" font-family='"Liberation Sans", sans-serif' font-weight="normal" textLength="33" lengthAdjust="spacingAndGlyphs">56</text>
<text x="199" y="82" font-size="13" fill="#fff" text-anchor="start" font-family='"DejaVu Sans", "Liberation Sans", sans-serif' font-weight="bold" textLength="5.5" lengthAdjust="spacingAndGlyphs">1</text>
<polygon points="1446,24 1455,24 1450.5,29" fill="#c0c0c0" shape-rendering="auto"/>
<rect x="1691" y="296" width="41" height="11" fill="#ff0000"/>
<text x="1695.5" y="305.5" font-size="9.5" fill="#fff" text-anchor="start" font-family='"DejaVu Sans", "Liberation Sans", sans-serif' font-weight="normal" textLength="33" lengthAdjust="spacingAndGlyphs" stroke="#fff" stroke-width="0.3">106.787</text>
<rect x="1691" y="315" width="41" height="11" fill="#ff0000"/>
<text x="1695.5" y="324.5" font-size="9.5" fill="#fff" text-anchor="start" font-family='"DejaVu Sans", "Liberation Sans", sans-serif' font-weight="normal" textLength="33" lengthAdjust="spacingAndGlyphs" stroke="#fff" stroke-width="0.3">106.378</text>
<rect x="1691" y="355" width="41" height="11" fill="#000000"/>
<text x="1695.5" y="364.5" font-size="9.5" fill="#fff" text-anchor="start" font-family='"DejaVu Sans", "Liberation Sans", sans-serif' font-weight="normal" textLength="33" lengthAdjust="spacingAndGlyphs" stroke="#fff" stroke-width="0.3">105.537</text>
<rect x="1691" y="362" width="41" height="11" fill="#32cd32"/>
<text x="1695.5" y="371.5" font-size="9.5" fill="#fff" text-anchor="start" font-family='"DejaVu Sans", "Liberation Sans", sans-serif' font-weight="normal" textLength="33" lengthAdjust="spacingAndGlyphs" stroke="#fff" stroke-width="0.3">105.367</text>
<rect x="1691" y="389" width="41" height="11" fill="#0000ff"/>
<text x="1695.5" y="398.5" font-size="9.5" fill="#fff" text-anchor="start" font-family='"DejaVu Sans", "Liberation Sans", sans-serif' font-weight="normal" textLength="33" lengthAdjust="spacingAndGlyphs" stroke="#fff" stroke-width="0.3">104.785</text>
<rect x="1691" y="418" width="41" height="11" fill="#0000ff"/>
<text x="1695.5" y="427.5" font-size="9.5" fill="#fff" text-anchor="start" font-family='"DejaVu Sans", "Liberation Sans", sans-serif' font-weight="normal" textLength="33" lengthAdjust="spacingAndGlyphs" stroke="#fff" stroke-width="0.3">104.161</text>
<rect x="1684.5" y="366.5" width="4" height="4" fill="#fff" stroke="#32cd32" stroke-width="1"/>
<text x="2" y="591" font-size="10.5" fill="#000" text-anchor="start" font-family='"DejaVu Sans", "Liberation Sans", sans-serif' font-weight="normal" textLength="134" lengthAdjust="spacingAndGlyphs" stroke="#000" stroke-width="0.3">MACD(12,26,9) -0.4298 -0.4864</text>
<text x="2" y="763" font-size="10.5" fill="#000" text-anchor="start" font-family='"DejaVu Sans", "Liberation Sans", sans-serif' font-weight="normal" textLength="66.5" lengthAdjust="spacingAndGlyphs" stroke="#000" stroke-width="0.3">RSI(14) 40.6711</text>
<rect x="1690" y="580" width="1" height="1" fill="#000"/>
<rect x="1690" y="636" width="2" height="1" fill="#000"/>
<rect x="1690" y="747" width="1" height="1" fill="#000"/>
<text x="1693" y="589" font-size="10.5" fill="#000" text-anchor="start" font-family='"DejaVu Sans", "Liberation Sans", sans-serif' font-weight="normal" textLength="27.5" lengthAdjust="spacingAndGlyphs" stroke="#000" stroke-width="0.3">0.8034</text>
<text x="1693" y="640" font-size="10.5" fill="#000" text-anchor="start" font-family='"DejaVu Sans", "Liberation Sans", sans-serif' font-weight="normal" textLength="17" lengthAdjust="spacingAndGlyphs" stroke="#000" stroke-width="0.3">0.00</text>
<text x="1692" y="745" font-size="10.5" fill="#000" text-anchor="start" font-family='"DejaVu Sans", "Liberation Sans", sans-serif' font-weight="normal" textLength="30" lengthAdjust="spacingAndGlyphs" stroke="#000" stroke-width="0.3">-1.5784</text>
<rect x="1690" y="752" width="1" height="1" fill="#000"/>
<rect x="1690" y="923" width="1" height="1" fill="#000"/>
<text x="1693" y="761" font-size="10.5" fill="#000" text-anchor="start" font-family='"DejaVu Sans", "Liberation Sans", sans-serif' font-weight="normal" textLength="14.8" lengthAdjust="spacingAndGlyphs" stroke="#000" stroke-width="0.3">100</text>
<text x="1692" y="790" font-size="10.5" fill="#000" text-anchor="start" font-family='"DejaVu Sans", "Liberation Sans", sans-serif' font-weight="normal" textLength="9.5" lengthAdjust="spacingAndGlyphs" stroke="#000" stroke-width="0.3">80</text>
<text x="1692" y="841" font-size="10.5" fill="#000" text-anchor="start" font-family='"DejaVu Sans", "Liberation Sans", sans-serif' font-weight="normal" textLength="9.5" lengthAdjust="spacingAndGlyphs" stroke="#000" stroke-width="0.3">50</text>
<text x="1692" y="902" font-size="10.5" fill="#000" text-anchor="start" font-family='"DejaVu Sans", "Liberation Sans", sans-serif' font-weight="normal" textLength="9.7" lengthAdjust="spacingAndGlyphs" stroke="#000" stroke-width="0.3">15</text>
<text x="1693" y="921" font-size="10.5" fill="#000" text-anchor="start" font-family='"DejaVu Sans", "Liberation Sans", sans-serif' font-weight="normal" textLength="4.8" lengthAdjust="spacingAndGlyphs" stroke="#000" stroke-width="0.3">0</text>
<rect x="-2" y="925" width="1" height="2" fill="#000"/>
<text x="-2.5" y="937" font-size="9.5" fill="#000" text-anchor="start" font-family='"DejaVu Sans", "Liberation Sans", sans-serif' font-weight="normal" textLength="44.0" lengthAdjust="spacingAndGlyphs" stroke="#000" stroke-width="0.3">8 Jan 2020</text>
<rect x="62" y="925" width="1" height="2" fill="#000"/>
<text x="61.5" y="937" font-size="9.5" fill="#000" text-anchor="start" font-family='"DejaVu Sans", "Liberation Sans", sans-serif' font-weight="normal" textLength="49.3" lengthAdjust="spacingAndGlyphs" stroke="#000" stroke-width="0.3">17 Jan 2020</text>
<rect x="126" y="925" width="1" height="2" fill="#000"/>
<text x="125.5" y="937" font-size="9.5" fill="#000" text-anchor="start" font-family='"DejaVu Sans", "Liberation Sans", sans-serif' font-weight="normal" textLength="49.3" lengthAdjust="spacingAndGlyphs" stroke="#000" stroke-width="0.3">27 Jan 2020</text>
<rect x="190" y="925" width="1" height="2" fill="#000"/>
<text x="189.5" y="937" font-size="9.5" fill="#000" text-anchor="start" font-family='"DejaVu Sans", "Liberation Sans", sans-serif' font-weight="normal" textLength="45.9" lengthAdjust="spacingAndGlyphs" stroke="#000" stroke-width="0.3">5 Feb 2020</text>
<rect x="254" y="925" width="1" height="2" fill="#000"/>
<text x="253.5" y="937" font-size="9.5" fill="#000" text-anchor="start" font-family='"DejaVu Sans", "Liberation Sans", sans-serif' font-weight="normal" textLength="51.1" lengthAdjust="spacingAndGlyphs" stroke="#000" stroke-width="0.3">14 Feb 2020</text>
<rect x="318" y="925" width="1" height="2" fill="#000"/>
<text x="317.5" y="937" font-size="9.5" fill="#000" text-anchor="start" font-family='"DejaVu Sans", "Liberation Sans", sans-serif' font-weight="normal" textLength="51.1" lengthAdjust="spacingAndGlyphs" stroke="#000" stroke-width="0.3">24 Feb 2020</text>
<rect x="382" y="925" width="1" height="2" fill="#000"/>
<text x="381.5" y="937" font-size="9.5" fill="#000" text-anchor="start" font-family='"DejaVu Sans", "Liberation Sans", sans-serif' font-weight="normal" textLength="46.9" lengthAdjust="spacingAndGlyphs" stroke="#000" stroke-width="0.3">4 Mar 2020</text>
<rect x="446" y="925" width="1" height="2" fill="#000"/>
<text x="445.5" y="937" font-size="9.5" fill="#000" text-anchor="start" font-family='"DejaVu Sans", "Liberation Sans", sans-serif' font-weight="normal" textLength="52.1" lengthAdjust="spacingAndGlyphs" stroke="#000" stroke-width="0.3">13 Mar 2020</text>
<rect x="510" y="925" width="1" height="2" fill="#000"/>
<text x="509.5" y="937" font-size="9.5" fill="#000" text-anchor="start" font-family='"DejaVu Sans", "Liberation Sans", sans-serif' font-weight="normal" textLength="52.1" lengthAdjust="spacingAndGlyphs" stroke="#000" stroke-width="0.3">23 Mar 2020</text>
<rect x="574" y="925" width="1" height="2" fill="#000"/>
<text x="573.5" y="937" font-size="9.5" fill="#000" text-anchor="start" font-family='"DejaVu Sans", "Liberation Sans", sans-serif' font-weight="normal" textLength="45.6" lengthAdjust="spacingAndGlyphs" stroke="#000" stroke-width="0.3">1 Apr 2020</text>
<rect x="638" y="925" width="1" height="2" fill="#000"/>
<text x="637.5" y="937" font-size="9.5" fill="#000" text-anchor="start" font-family='"DejaVu Sans", "Liberation Sans", sans-serif' font-weight="normal" textLength="50.8" lengthAdjust="spacingAndGlyphs" stroke="#000" stroke-width="0.3">12 Apr 2020</text>
<rect x="702" y="925" width="1" height="2" fill="#000"/>
<text x="701.5" y="937" font-size="9.5" fill="#000" text-anchor="start" font-family='"DejaVu Sans", "Liberation Sans", sans-serif' font-weight="normal" textLength="50.8" lengthAdjust="spacingAndGlyphs" stroke="#000" stroke-width="0.3">21 Apr 2020</text>
<rect x="766" y="925" width="1" height="2" fill="#000"/>
<text x="765.5" y="937" font-size="9.5" fill="#000" text-anchor="start" font-family='"DejaVu Sans", "Liberation Sans", sans-serif' font-weight="normal" textLength="50.8" lengthAdjust="spacingAndGlyphs" stroke="#000" stroke-width="0.3">30 Apr 2020</text>
<rect x="830" y="925" width="1" height="2" fill="#000"/>
<text x="829.5" y="937" font-size="9.5" fill="#000" text-anchor="start" font-family='"DejaVu Sans", "Liberation Sans", sans-serif' font-weight="normal" textLength="53.6" lengthAdjust="spacingAndGlyphs" stroke="#000" stroke-width="0.3">10 May 2020</text>
<rect x="894" y="925" width="1" height="2" fill="#000"/>
<text x="893.5" y="937" font-size="9.5" fill="#000" text-anchor="start" font-family='"DejaVu Sans", "Liberation Sans", sans-serif' font-weight="normal" textLength="53.6" lengthAdjust="spacingAndGlyphs" stroke="#000" stroke-width="0.3">19 May 2020</text>
<rect x="958" y="925" width="1" height="2" fill="#000"/>
<text x="957.5" y="937" font-size="9.5" fill="#000" text-anchor="start" font-family='"DejaVu Sans", "Liberation Sans", sans-serif' font-weight="normal" textLength="53.6" lengthAdjust="spacingAndGlyphs" stroke="#000" stroke-width="0.3">28 May 2020</text>
<rect x="1022" y="925" width="1" height="2" fill="#000"/>
<text x="1021.5" y="937" font-size="9.5" fill="#000" text-anchor="start" font-family='"DejaVu Sans", "Liberation Sans", sans-serif' font-weight="normal" textLength="44.2" lengthAdjust="spacingAndGlyphs" stroke="#000" stroke-width="0.3">7 Jun 2020</text>
<rect x="1086" y="925" width="1" height="2" fill="#000"/>
<text x="1085.5" y="937" font-size="9.5" fill="#000" text-anchor="start" font-family='"DejaVu Sans", "Liberation Sans", sans-serif' font-weight="normal" textLength="49.4" lengthAdjust="spacingAndGlyphs" stroke="#000" stroke-width="0.3">16 Jun 2020</text>
<rect x="1150" y="925" width="1" height="2" fill="#000"/>
<text x="1149.5" y="937" font-size="9.5" fill="#000" text-anchor="start" font-family='"DejaVu Sans", "Liberation Sans", sans-serif' font-weight="normal" textLength="49.4" lengthAdjust="spacingAndGlyphs" stroke="#000" stroke-width="0.3">25 Jun 2020</text>
<rect x="1214" y="925" width="1" height="2" fill="#000"/>
<text x="1213.5" y="937" font-size="9.5" fill="#000" text-anchor="start" font-family='"DejaVu Sans", "Liberation Sans", sans-serif' font-weight="normal" textLength="41.3" lengthAdjust="spacingAndGlyphs" stroke="#000" stroke-width="0.3">5 Jul 2020</text>
<rect x="1278" y="925" width="1" height="2" fill="#000"/>
<text x="1277.5" y="937" font-size="9.5" fill="#000" text-anchor="start" font-family='"DejaVu Sans", "Liberation Sans", sans-serif' font-weight="normal" textLength="46.5" lengthAdjust="spacingAndGlyphs" stroke="#000" stroke-width="0.3">14 Jul 2020</text>
<rect x="1342" y="925" width="1" height="2" fill="#000"/>
<text x="1341.5" y="937" font-size="9.5" fill="#000" text-anchor="start" font-family='"DejaVu Sans", "Liberation Sans", sans-serif' font-weight="normal" textLength="46.5" lengthAdjust="spacingAndGlyphs" stroke="#000" stroke-width="0.3">23 Jul 2020</text>
<rect x="1406" y="925" width="1" height="2" fill="#000"/>
<text x="1405.5" y="937" font-size="9.5" fill="#000" text-anchor="start" font-family='"DejaVu Sans", "Liberation Sans", sans-serif' font-weight="normal" textLength="47.4" lengthAdjust="spacingAndGlyphs" stroke="#000" stroke-width="0.3">2 Aug 2020</text>
</svg>
</body></html>
